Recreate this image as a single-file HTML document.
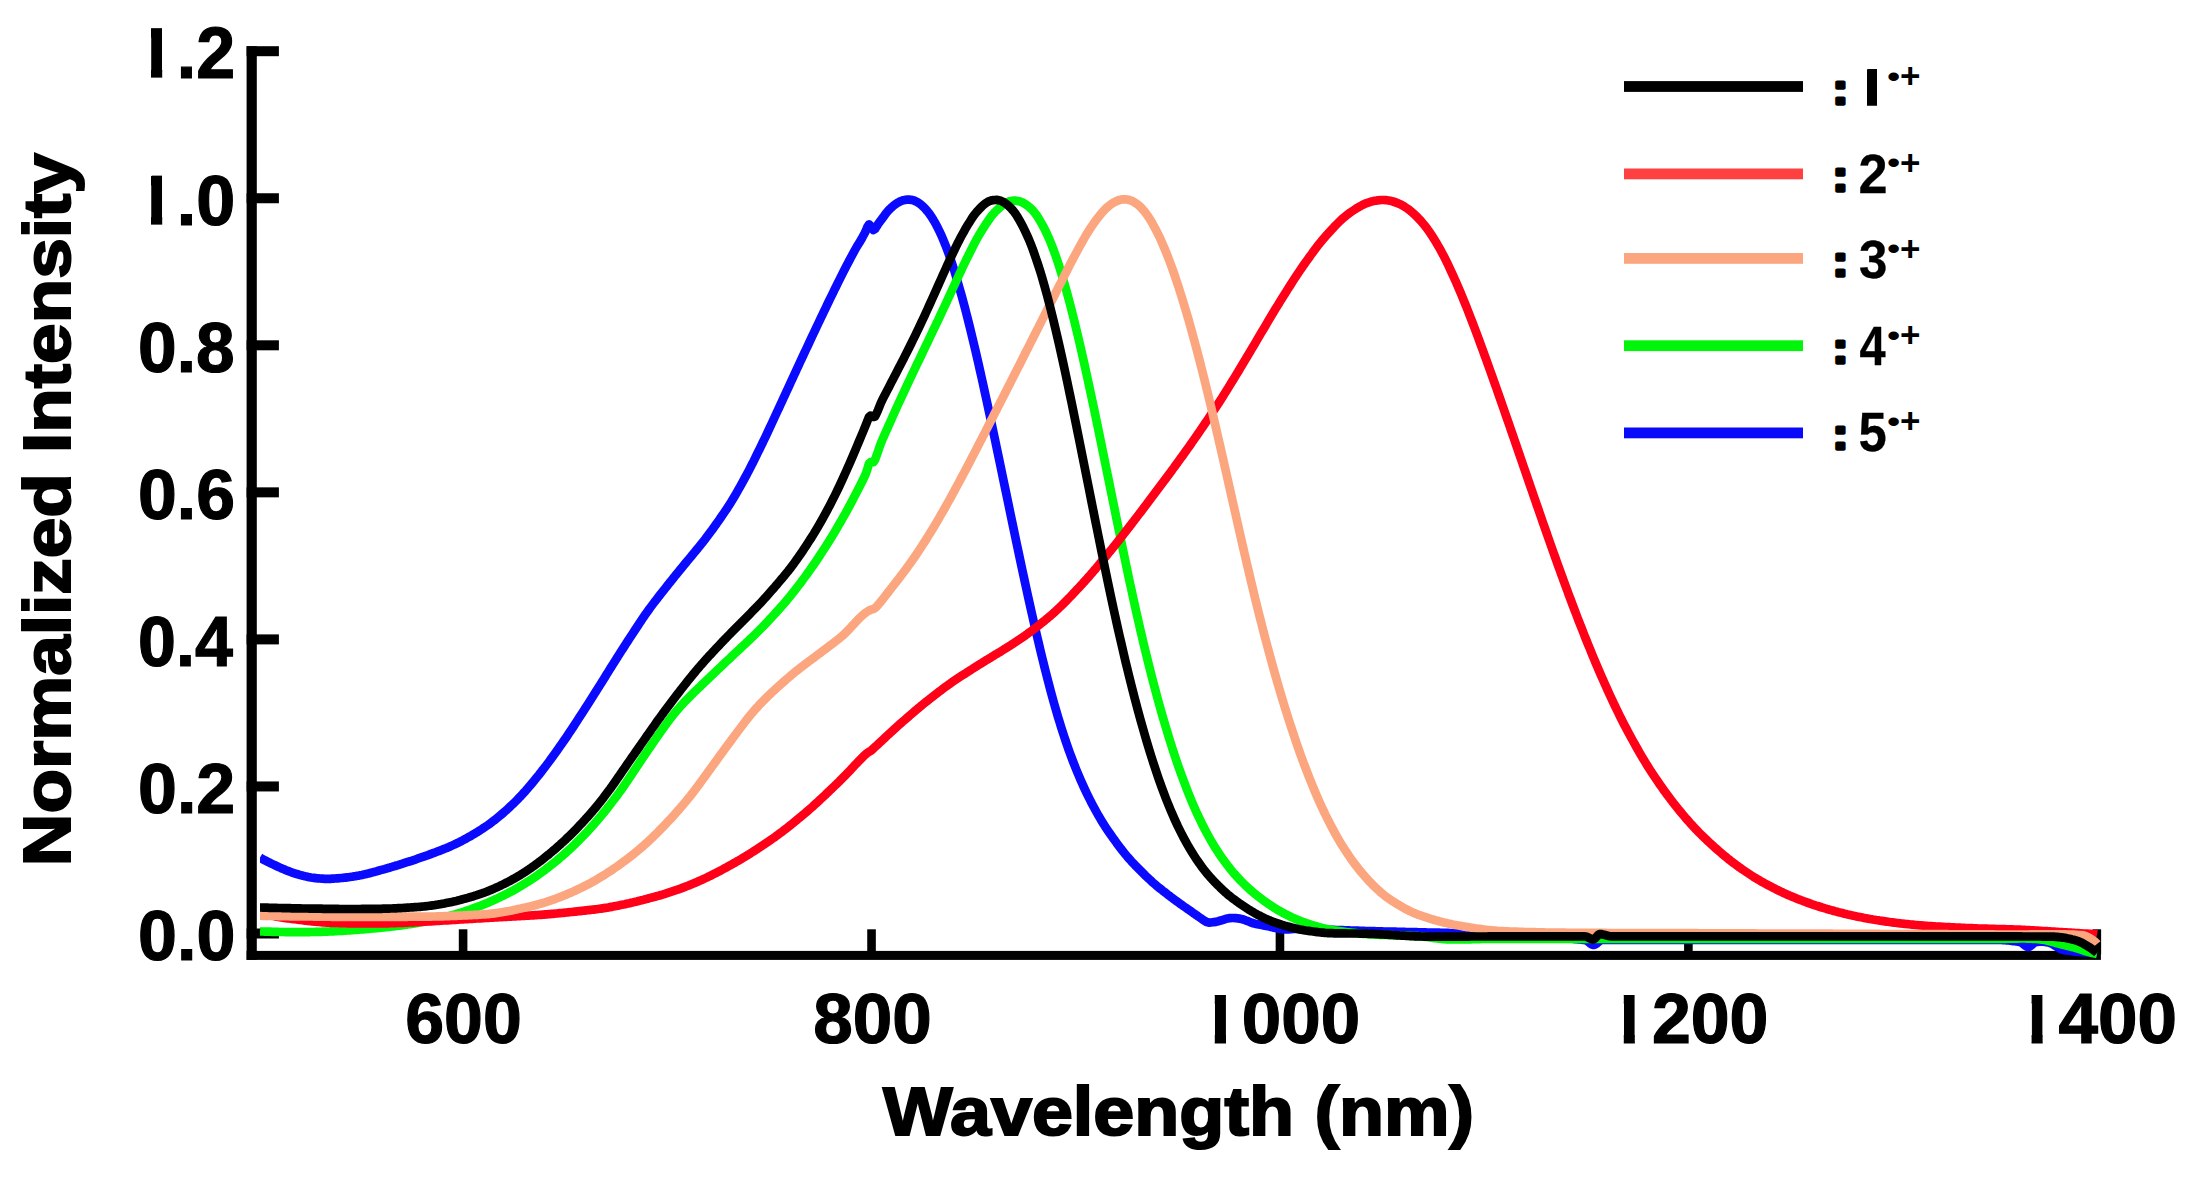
<!DOCTYPE html>
<html lang="en"><head><meta charset="utf-8"><title>Normalized Intensity vs Wavelength</title>
<style>html,body{margin:0;padding:0;background:#fff}body{width:2193px;height:1177px;overflow:hidden}svg{display:block}text{font-family:"Liberation Sans", sans-serif;font-weight:700;fill:#000}</style></head><body>
<svg width="2193" height="1177" viewBox="0 0 2193 1177">
<rect width="2193" height="1177" fill="#fff"/>
<defs><clipPath id="plot"><rect x="260" y="150" width="1841" height="810"/></clipPath></defs>
<g fill="#000">
<rect x="246.6" y="46.2" width="10.2" height="913.6"/>
<rect x="246.6" y="950.9" width="1854.3" height="9"/>
<rect x="246.6" y="928.50" width="32.3" height="10"/>
<rect x="246.6" y="781.45" width="32.3" height="10"/>
<rect x="246.6" y="634.40" width="32.3" height="10"/>
<rect x="246.6" y="487.35" width="32.3" height="10"/>
<rect x="246.6" y="340.30" width="32.3" height="10"/>
<rect x="246.6" y="193.25" width="32.3" height="10"/>
<rect x="246.6" y="46.20" width="32.3" height="10"/>
<rect x="458.80" y="929.3" width="8.6" height="25"/>
<rect x="867.23" y="929.3" width="8.6" height="25"/>
<rect x="1275.66" y="929.3" width="8.6" height="25"/>
<rect x="1684.09" y="929.3" width="8.6" height="25"/>
<rect x="2092.52" y="929.3" width="8.6" height="25"/>
</g>
<g clip-path="url(#plot)" fill="none" stroke-width="8.7" stroke-linejoin="round" stroke-linecap="butt">
<path d="M260.0 857.6 L261.5 858.5 L263.0 859.3 L264.5 860.1 L266.0 860.9 L267.5 861.7 L269.0 862.4 L270.5 863.2 L272.0 863.9 L273.5 864.6 L275.0 865.3 L276.5 866.0 L278.0 866.7 L279.5 867.4 L281.0 868.1 L282.5 868.7 L284.0 869.3 L285.5 870.0 L287.0 870.6 L288.5 871.1 L290.0 871.7 L291.5 872.3 L293.0 872.8 L294.5 873.3 L296.0 873.8 L297.5 874.2 L299.0 874.7 L300.5 875.1 L302.0 875.5 L303.5 875.9 L305.0 876.3 L306.5 876.6 L308.0 876.9 L309.5 877.2 L311.0 877.5 L312.5 877.7 L314.0 877.9 L315.5 878.1 L317.0 878.3 L318.5 878.4 L320.0 878.5 L321.5 878.6 L323.0 878.7 L324.5 878.8 L326.0 878.8 L327.5 878.8 L329.0 878.8 L330.5 878.8 L332.0 878.7 L333.5 878.6 L335.0 878.5 L336.5 878.4 L338.0 878.3 L339.5 878.2 L341.0 878.0 L342.5 877.9 L344.0 877.7 L345.5 877.6 L347.0 877.4 L348.5 877.2 L350.0 877.0 L351.5 876.8 L353.0 876.6 L354.5 876.3 L356.0 876.1 L357.5 875.8 L359.0 875.6 L360.5 875.3 L362.0 875.0 L363.5 874.6 L365.0 874.3 L366.5 873.9 L368.0 873.6 L369.5 873.2 L371.0 872.8 L372.5 872.4 L374.0 872.0 L375.5 871.6 L377.0 871.2 L378.5 870.7 L380.0 870.3 L381.5 869.9 L383.0 869.5 L384.5 869.1 L386.0 868.6 L387.5 868.2 L389.0 867.8 L390.5 867.3 L392.0 866.9 L393.5 866.4 L395.0 866.0 L396.5 865.5 L398.0 865.1 L399.5 864.6 L401.0 864.1 L402.5 863.7 L404.0 863.2 L405.5 862.7 L407.0 862.2 L408.5 861.7 L410.0 861.3 L411.5 860.8 L413.0 860.3 L414.5 859.8 L416.0 859.3 L417.5 858.7 L419.0 858.2 L420.5 857.7 L422.0 857.2 L423.5 856.7 L425.0 856.1 L426.5 855.6 L428.0 855.1 L429.5 854.5 L431.0 854.0 L432.5 853.4 L434.0 852.8 L435.5 852.3 L437.0 851.7 L438.5 851.2 L440.0 850.6 L441.5 850.0 L443.0 849.4 L444.5 848.8 L446.0 848.2 L447.5 847.6 L449.0 847.0 L450.5 846.3 L452.0 845.6 L453.5 844.9 L455.0 844.2 L456.5 843.5 L458.0 842.8 L459.5 842.0 L461.0 841.3 L462.5 840.5 L464.0 839.7 L465.5 838.9 L467.0 838.0 L468.5 837.2 L470.0 836.4 L471.5 835.5 L473.0 834.6 L474.5 833.7 L476.0 832.8 L477.5 831.9 L479.0 830.9 L480.5 830.0 L482.0 829.0 L483.5 828.1 L485.0 827.0 L486.5 826.0 L488.0 825.0 L489.5 823.9 L491.0 822.8 L492.5 821.6 L494.0 820.5 L495.5 819.3 L497.0 818.1 L498.5 816.9 L500.0 815.7 L501.5 814.4 L503.0 813.1 L504.5 811.8 L506.0 810.5 L507.5 809.1 L509.0 807.7 L510.5 806.3 L512.0 804.9 L513.5 803.5 L515.0 802.0 L516.5 800.5 L518.0 798.9 L519.5 797.3 L521.0 795.8 L522.5 794.2 L524.0 792.5 L525.5 790.9 L527.0 789.2 L528.5 787.4 L530.0 785.7 L531.5 783.9 L533.0 782.1 L534.5 780.2 L536.0 778.4 L537.5 776.5 L539.0 774.7 L540.5 772.8 L542.0 770.8 L543.5 768.9 L545.0 767.0 L546.5 765.0 L548.0 763.0 L549.5 761.0 L551.0 758.9 L552.5 756.9 L554.0 754.8 L555.5 752.7 L557.0 750.6 L558.5 748.5 L560.0 746.3 L561.5 744.2 L563.0 742.0 L564.5 739.9 L566.0 737.7 L567.5 735.5 L569.0 733.2 L570.5 731.0 L572.0 728.8 L573.5 726.5 L575.0 724.2 L576.5 721.9 L578.0 719.5 L579.5 717.2 L581.0 714.9 L582.5 712.6 L584.0 710.2 L585.5 707.9 L587.0 705.6 L588.5 703.2 L590.0 700.9 L591.5 698.5 L593.0 696.2 L594.5 693.8 L596.0 691.4 L597.5 689.0 L599.0 686.7 L600.5 684.3 L602.0 681.9 L603.5 679.5 L605.0 677.1 L606.5 674.6 L608.0 672.2 L609.5 669.8 L611.0 667.4 L612.5 665.0 L614.0 662.7 L615.5 660.3 L617.0 657.9 L618.5 655.5 L620.0 653.2 L621.5 650.8 L623.0 648.5 L624.5 646.2 L626.0 643.8 L627.5 641.5 L629.0 639.2 L630.5 636.9 L632.0 634.6 L633.5 632.3 L635.0 630.0 L636.5 627.8 L638.0 625.5 L639.5 623.2 L641.0 621.0 L642.5 618.7 L644.0 616.5 L645.5 614.3 L647.0 612.2 L648.5 610.1 L650.0 608.0 L651.5 606.0 L653.0 604.0 L654.5 602.0 L656.0 600.1 L657.5 598.2 L659.0 596.2 L660.5 594.3 L662.0 592.4 L663.5 590.5 L665.0 588.6 L666.5 586.7 L668.0 584.8 L669.5 582.9 L671.0 581.1 L672.5 579.2 L674.0 577.3 L675.5 575.4 L677.0 573.6 L678.5 571.7 L680.0 569.9 L681.5 568.1 L683.0 566.2 L684.5 564.4 L686.0 562.6 L687.5 560.8 L689.0 559.0 L690.5 557.2 L692.0 555.4 L693.5 553.5 L695.0 551.7 L696.5 549.9 L698.0 548.1 L699.5 546.2 L701.0 544.4 L702.5 542.5 L704.0 540.6 L705.5 538.7 L707.0 536.7 L708.5 534.7 L710.0 532.7 L711.5 530.7 L713.0 528.6 L714.5 526.5 L716.0 524.4 L717.5 522.3 L719.0 520.2 L720.5 518.0 L722.0 515.8 L723.5 513.6 L725.0 511.4 L726.5 509.2 L728.0 506.9 L729.5 504.6 L731.0 502.2 L732.5 499.7 L734.0 497.2 L735.5 494.7 L737.0 492.1 L738.5 489.4 L740.0 486.8 L741.5 484.1 L743.0 481.4 L744.5 478.6 L746.0 475.9 L747.5 473.0 L749.0 470.2 L750.5 467.3 L752.0 464.3 L753.5 461.4 L755.0 458.3 L756.5 455.3 L758.0 452.2 L759.5 449.2 L761.0 446.1 L762.5 443.0 L764.0 439.9 L765.5 436.8 L767.0 433.6 L768.5 430.4 L770.0 427.2 L771.5 424.0 L773.0 420.7 L774.5 417.5 L776.0 414.2 L777.5 411.0 L779.0 407.8 L780.5 404.5 L782.0 401.3 L783.5 398.0 L785.0 394.8 L786.5 391.5 L788.0 388.3 L789.5 385.1 L791.0 381.8 L792.5 378.6 L794.0 375.3 L795.5 372.1 L797.0 368.8 L798.5 365.6 L800.0 362.3 L801.5 359.1 L803.0 355.9 L804.5 352.7 L806.0 349.5 L807.5 346.3 L809.0 343.1 L810.5 339.9 L812.0 336.7 L813.5 333.5 L815.0 330.3 L816.5 327.2 L818.0 324.0 L819.5 320.9 L821.0 317.7 L822.5 314.6 L824.0 311.4 L825.5 308.3 L827.0 305.1 L828.5 302.0 L830.0 298.9 L831.5 295.9 L833.0 292.8 L834.5 289.7 L836.0 286.7 L837.5 283.6 L839.0 280.6 L840.5 277.6 L842.0 274.6 L843.5 271.6 L845.0 268.7 L846.5 265.8 L848.0 262.9 L849.5 260.1 L851.0 257.3 L852.5 254.5 L854.0 251.7 L855.5 249.0 L857.0 246.4 L858.5 244.0 L860.0 241.6 L861.5 239.1 L863.0 236.3 L864.5 233.5 L866.0 230.5 L867.5 226.6 L869.0 224.4 L870.5 225.9 L872.0 228.1 L873.5 230.0 L875.0 229.0 L876.5 226.7 L878.0 224.2 L879.5 222.2 L881.0 220.2 L882.5 218.1 L884.0 216.1 L885.5 214.0 L887.0 212.1 L888.5 210.4 L890.0 208.9 L891.5 207.5 L893.0 206.1 L894.5 204.9 L896.0 203.8 L897.5 202.8 L899.0 202.0 L900.5 201.3 L902.0 200.7 L903.5 200.2 L905.0 199.9 L906.5 199.7 L908.0 199.6 L909.5 199.7 L911.0 199.8 L912.5 200.1 L914.0 200.5 L915.5 201.2 L917.0 201.9 L918.5 202.9 L920.0 203.9 L921.5 205.1 L923.0 206.5 L924.5 207.9 L926.0 209.6 L927.5 211.4 L929.0 213.3 L930.5 215.4 L932.0 217.7 L933.5 220.1 L935.0 222.7 L936.5 225.4 L938.0 228.3 L939.5 231.4 L941.0 234.6 L942.5 238.0 L944.0 241.6 L945.5 245.3 L947.0 249.3 L948.5 253.3 L950.0 257.5 L951.5 261.9 L953.0 266.5 L954.5 271.3 L956.0 276.3 L957.5 281.3 L959.0 286.4 L960.5 291.7 L962.0 297.0 L963.5 302.6 L965.0 308.2 L966.5 314.0 L968.0 319.9 L969.5 325.9 L971.0 332.0 L972.5 338.2 L974.0 344.5 L975.5 350.8 L977.0 357.3 L978.5 363.8 L980.0 370.5 L981.5 377.1 L983.0 383.9 L984.5 390.7 L986.0 397.6 L987.5 404.5 L989.0 411.5 L990.5 418.5 L992.0 425.5 L993.5 432.6 L995.0 439.7 L996.5 446.9 L998.0 454.0 L999.5 461.2 L1001.0 468.4 L1002.5 475.6 L1004.0 482.8 L1005.5 490.0 L1007.0 497.2 L1008.5 504.4 L1010.0 511.6 L1011.5 518.8 L1013.0 526.0 L1014.5 533.1 L1016.0 540.3 L1017.5 547.4 L1019.0 554.5 L1020.5 561.5 L1022.0 568.6 L1023.5 575.5 L1025.0 582.5 L1026.5 589.4 L1028.0 596.2 L1029.5 603.0 L1031.0 609.7 L1032.5 616.4 L1034.0 623.0 L1035.5 629.5 L1037.0 635.9 L1038.5 642.3 L1040.0 648.7 L1041.5 654.9 L1043.0 661.0 L1044.5 667.1 L1046.0 673.0 L1047.5 678.9 L1049.0 684.7 L1050.5 690.4 L1052.0 695.9 L1053.5 701.3 L1055.0 706.6 L1056.5 711.8 L1058.0 716.9 L1059.5 721.8 L1061.0 726.7 L1062.5 731.4 L1064.0 736.0 L1065.5 740.5 L1067.0 744.9 L1068.5 749.2 L1070.0 753.4 L1071.5 757.4 L1073.0 761.4 L1074.5 765.2 L1076.0 769.0 L1077.5 772.6 L1079.0 776.2 L1080.5 779.7 L1082.0 783.1 L1083.5 786.4 L1085.0 789.7 L1086.5 792.8 L1088.0 795.9 L1089.5 798.9 L1091.0 801.9 L1092.5 804.7 L1094.0 807.5 L1095.5 810.3 L1097.0 813.0 L1098.5 815.6 L1100.0 818.2 L1101.5 820.7 L1103.0 823.1 L1104.5 825.5 L1106.0 827.8 L1107.5 830.1 L1109.0 832.3 L1110.5 834.4 L1112.0 836.5 L1113.5 838.7 L1115.0 840.7 L1116.5 842.8 L1118.0 844.8 L1119.5 846.8 L1121.0 848.8 L1122.5 850.7 L1124.0 852.6 L1125.5 854.5 L1127.0 856.3 L1128.5 858.0 L1130.0 859.7 L1131.5 861.4 L1133.0 863.0 L1134.5 864.6 L1136.0 866.2 L1137.5 867.7 L1139.0 869.2 L1140.5 870.7 L1142.0 872.2 L1143.5 873.7 L1145.0 875.2 L1146.5 876.6 L1148.0 878.0 L1149.5 879.4 L1151.0 880.8 L1152.5 882.2 L1154.0 883.5 L1155.5 884.8 L1157.0 886.1 L1158.5 887.3 L1160.0 888.5 L1161.5 889.7 L1163.0 890.9 L1164.5 892.0 L1166.0 893.2 L1167.5 894.4 L1169.0 895.5 L1170.5 896.7 L1172.0 897.8 L1173.5 898.9 L1175.0 900.1 L1176.5 901.2 L1178.0 902.2 L1179.5 903.3 L1181.0 904.4 L1182.5 905.4 L1184.0 906.5 L1185.5 907.5 L1187.0 908.6 L1188.5 909.6 L1190.0 910.7 L1191.5 911.7 L1193.0 912.8 L1194.5 913.8 L1196.0 914.9 L1197.5 915.9 L1199.0 917.0 L1200.5 918.0 L1202.0 919.1 L1203.5 920.1 L1205.0 921.1 L1206.5 922.0 L1208.0 922.4 L1209.5 922.6 L1211.0 922.5 L1212.5 922.3 L1214.0 922.1 L1215.5 921.9 L1217.0 921.6 L1218.5 921.2 L1220.0 920.7 L1221.5 920.3 L1223.0 919.8 L1224.5 919.3 L1226.0 918.8 L1227.5 918.5 L1229.0 918.2 L1230.5 918.1 L1232.0 918.0 L1233.5 918.0 L1235.0 918.1 L1236.5 918.2 L1238.0 918.4 L1239.5 918.6 L1241.0 918.9 L1242.5 919.3 L1244.0 919.7 L1245.5 920.3 L1247.0 920.8 L1248.5 921.4 L1250.0 922.1 L1251.5 922.6 L1253.0 923.2 L1254.5 923.6 L1256.0 923.9 L1257.5 924.2 L1259.0 924.5 L1260.5 924.8 L1262.0 925.1 L1263.5 925.4 L1265.0 925.7 L1266.5 926.0 L1268.0 926.3 L1269.5 926.6 L1271.0 927.0 L1272.5 927.3 L1274.0 927.7 L1275.5 928.0 L1277.0 928.3 L1278.5 928.6 L1280.0 928.9 L1281.5 929.1 L1283.0 929.3 L1284.5 929.3 L1286.0 929.4 L1287.5 929.3 L1289.0 929.3 L1290.5 929.2 L1292.0 929.1 L1293.5 929.0 L1295.0 928.9 L1296.5 928.8 L1298.0 928.8 L1299.5 928.8 L1301.0 928.8 L1302.5 928.9 L1304.0 928.9 L1305.5 929.0 L1307.0 929.0 L1308.5 929.1 L1310.0 929.1 L1311.5 929.2 L1313.0 929.2 L1314.5 929.3 L1316.0 929.3 L1317.5 929.4 L1319.0 929.4 L1320.5 929.5 L1322.0 929.5 L1323.5 929.6 L1325.0 929.6 L1326.5 929.7 L1328.0 929.7 L1329.5 929.8 L1331.0 929.8 L1332.5 929.9 L1334.0 929.9 L1335.5 930.0 L1337.0 930.0 L1338.5 930.1 L1340.0 930.1 L1341.5 930.2 L1343.0 930.2 L1344.5 930.3 L1346.0 930.3 L1347.5 930.4 L1349.0 930.4 L1350.5 930.5 L1352.0 930.5 L1353.5 930.6 L1355.0 930.6 L1356.5 930.7 L1358.0 930.7 L1359.5 930.8 L1361.0 930.8 L1362.5 930.9 L1364.0 930.9 L1365.5 931.0 L1367.0 931.0 L1368.5 931.1 L1370.0 931.1 L1371.5 931.2 L1373.0 931.2 L1374.5 931.2 L1376.0 931.3 L1377.5 931.3 L1379.0 931.4 L1380.5 931.4 L1382.0 931.4 L1383.5 931.5 L1385.0 931.5 L1386.5 931.5 L1388.0 931.6 L1389.5 931.6 L1391.0 931.6 L1392.5 931.7 L1394.0 931.7 L1395.5 931.7 L1397.0 931.8 L1398.5 931.8 L1400.0 931.8 L1401.5 931.9 L1403.0 931.9 L1404.5 931.9 L1406.0 932.0 L1407.5 932.0 L1409.0 932.0 L1410.5 932.1 L1412.0 932.1 L1413.5 932.1 L1415.0 932.2 L1416.5 932.2 L1418.0 932.3 L1419.5 932.3 L1421.0 932.3 L1422.5 932.4 L1424.0 932.4 L1425.5 932.4 L1427.0 932.5 L1428.5 932.5 L1430.0 932.5 L1431.5 932.6 L1433.0 932.6 L1434.5 932.6 L1436.0 932.7 L1437.5 932.7 L1439.0 932.7 L1440.5 932.8 L1442.0 932.8 L1443.5 932.8 L1445.0 932.9 L1446.5 932.9 L1448.0 932.9 L1449.5 933.0 L1451.0 933.0 L1452.5 933.0 L1454.0 933.1 L1455.5 933.1 L1457.0 933.1 L1458.5 933.2 L1460.0 933.2 L1461.5 933.3 L1463.0 933.3 L1464.5 933.3 L1466.0 933.4 L1467.5 933.4 L1469.0 933.5 L1470.5 933.5 L1472.0 933.5 L1473.5 933.6 L1475.0 933.6 L1476.5 933.7 L1478.0 933.7 L1479.5 933.8 L1481.0 933.8 L1482.5 933.8 L1484.0 933.9 L1485.5 933.9 L1487.0 934.0 L1488.5 934.0 L1490.0 934.1 L1491.5 934.1 L1493.0 934.2 L1494.5 934.2 L1496.0 934.3 L1497.5 934.3 L1499.0 934.4 L1500.5 934.4 L1502.0 934.4 L1503.5 934.5 L1505.0 934.5 L1506.5 934.6 L1508.0 934.6 L1509.5 934.7 L1511.0 934.7 L1512.5 934.8 L1514.0 934.8 L1515.5 934.9 L1517.0 934.9 L1518.5 935.0 L1520.0 935.0 L1521.5 935.0 L1523.0 935.1 L1524.5 935.2 L1526.0 935.2 L1527.5 935.3 L1529.0 935.4 L1530.5 935.4 L1532.0 935.5 L1533.5 935.6 L1535.0 935.7 L1536.5 935.8 L1538.0 935.9 L1539.5 936.0 L1541.0 936.1 L1542.5 936.2 L1544.0 936.3 L1545.5 936.4 L1547.0 936.5 L1548.5 936.6 L1550.0 936.7 L1551.5 936.9 L1553.0 937.0 L1554.5 937.1 L1556.0 937.3 L1557.5 937.4 L1559.0 937.5 L1560.5 937.7 L1562.0 937.8 L1563.5 937.9 L1565.0 938.1 L1566.5 938.2 L1568.0 938.4 L1569.5 938.5 L1571.0 938.6 L1572.5 938.8 L1574.0 938.9 L1575.5 939.1 L1577.0 939.2 L1578.5 939.4 L1580.0 939.5 L1581.5 939.7 L1583.0 939.8 L1584.5 940.0 L1586.0 940.3 L1587.5 941.1 L1589.0 942.3 L1590.5 943.6 L1592.0 944.6 L1593.5 945.0 L1595.0 944.6 L1596.5 943.6 L1598.0 942.3 L1599.5 941.1 L1601.0 940.2 L1602.5 940.0 L1604.0 940.0 L1605.5 940.0 L1607.0 940.0 L1608.5 940.0 L1610.0 940.0 L1611.5 940.0 L1613.0 940.0 L1614.5 940.0 L1616.0 940.0 L1617.5 940.0 L1619.0 940.0 L1620.5 940.0 L1622.0 940.0 L1623.5 940.0 L1625.0 940.0 L1626.5 940.0 L1628.0 940.0 L1629.5 940.0 L1631.0 940.0 L1632.5 940.0 L1634.0 940.0 L1635.5 940.0 L1637.0 940.0 L1638.5 940.0 L1640.0 940.0 L1641.5 940.0 L1643.0 940.0 L1644.5 940.0 L1646.0 940.0 L1647.5 940.0 L1649.0 940.0 L1650.5 940.0 L1652.0 940.0 L1653.5 940.0 L1655.0 940.0 L1656.5 940.0 L1658.0 940.0 L1659.5 940.0 L1661.0 940.0 L1662.5 940.0 L1664.0 940.0 L1665.5 940.0 L1667.0 940.0 L1668.5 940.0 L1670.0 940.0 L1671.5 940.0 L1673.0 940.0 L1674.5 940.0 L1676.0 940.0 L1677.5 940.0 L1679.0 940.0 L1680.5 940.0 L1682.0 940.0 L1683.5 940.0 L1685.0 940.0 L1686.5 940.0 L1688.0 940.0 L1689.5 940.0 L1691.0 940.0 L1692.5 940.0 L1694.0 940.0 L1695.5 940.0 L1697.0 940.0 L1698.5 940.0 L1700.0 940.0 L1701.5 940.0 L1703.0 940.0 L1704.5 940.0 L1706.0 940.0 L1707.5 940.0 L1709.0 940.0 L1710.5 940.0 L1712.0 940.0 L1713.5 940.0 L1715.0 940.0 L1716.5 940.0 L1718.0 940.0 L1719.5 940.0 L1721.0 940.0 L1722.5 940.0 L1724.0 940.0 L1725.5 940.0 L1727.0 940.0 L1728.5 940.0 L1730.0 940.0 L1731.5 940.0 L1733.0 940.0 L1734.5 940.0 L1736.0 940.0 L1737.5 940.0 L1739.0 940.0 L1740.5 940.0 L1742.0 940.0 L1743.5 940.0 L1745.0 940.0 L1746.5 940.0 L1748.0 940.0 L1749.5 940.0 L1751.0 940.0 L1752.5 940.0 L1754.0 940.0 L1755.5 940.0 L1757.0 940.0 L1758.5 940.0 L1760.0 940.0 L1761.5 940.0 L1763.0 940.0 L1764.5 940.0 L1766.0 940.0 L1767.5 940.0 L1769.0 940.0 L1770.5 940.0 L1772.0 940.0 L1773.5 940.0 L1775.0 940.0 L1776.5 940.0 L1778.0 940.0 L1779.5 940.0 L1781.0 940.0 L1782.5 940.0 L1784.0 940.0 L1785.5 940.0 L1787.0 940.0 L1788.5 940.0 L1790.0 940.0 L1791.5 940.0 L1793.0 940.0 L1794.5 940.0 L1796.0 940.0 L1797.5 940.0 L1799.0 940.0 L1800.5 940.0 L1802.0 940.0 L1803.5 940.0 L1805.0 940.0 L1806.5 940.0 L1808.0 940.0 L1809.5 940.0 L1811.0 940.0 L1812.5 940.0 L1814.0 940.0 L1815.5 940.0 L1817.0 940.0 L1818.5 940.0 L1820.0 940.0 L1821.5 940.0 L1823.0 940.0 L1824.5 940.0 L1826.0 940.0 L1827.5 940.0 L1829.0 940.0 L1830.5 940.0 L1832.0 940.0 L1833.5 940.0 L1835.0 940.0 L1836.5 940.0 L1838.0 940.0 L1839.5 940.0 L1841.0 940.0 L1842.5 940.0 L1844.0 940.0 L1845.5 940.0 L1847.0 940.0 L1848.5 940.0 L1850.0 940.0 L1851.5 940.0 L1853.0 940.0 L1854.5 940.0 L1856.0 940.0 L1857.5 940.0 L1859.0 940.0 L1860.5 940.0 L1862.0 940.0 L1863.5 940.0 L1865.0 940.0 L1866.5 940.0 L1868.0 940.0 L1869.5 940.0 L1871.0 940.0 L1872.5 940.0 L1874.0 940.0 L1875.5 940.0 L1877.0 940.0 L1878.5 940.0 L1880.0 940.0 L1881.5 940.0 L1883.0 940.0 L1884.5 940.0 L1886.0 940.0 L1887.5 940.0 L1889.0 940.0 L1890.5 940.0 L1892.0 940.0 L1893.5 940.0 L1895.0 940.0 L1896.5 940.0 L1898.0 940.0 L1899.5 940.0 L1901.0 940.0 L1902.5 940.0 L1904.0 940.0 L1905.5 940.0 L1907.0 940.0 L1908.5 940.0 L1910.0 940.0 L1911.5 940.0 L1913.0 940.0 L1914.5 940.0 L1916.0 940.0 L1917.5 940.0 L1919.0 940.0 L1920.5 940.0 L1922.0 940.0 L1923.5 940.0 L1925.0 940.0 L1926.5 940.0 L1928.0 940.0 L1929.5 940.0 L1931.0 940.0 L1932.5 940.0 L1934.0 940.0 L1935.5 940.0 L1937.0 940.0 L1938.5 940.0 L1940.0 940.0 L1941.5 940.0 L1943.0 940.0 L1944.5 940.0 L1946.0 940.0 L1947.5 940.0 L1949.0 940.0 L1950.5 940.0 L1952.0 940.0 L1953.5 940.0 L1955.0 940.0 L1956.5 940.0 L1958.0 940.0 L1959.5 940.0 L1961.0 940.0 L1962.5 940.0 L1964.0 940.0 L1965.5 940.0 L1967.0 940.0 L1968.5 940.0 L1970.0 940.0 L1971.5 940.0 L1973.0 940.0 L1974.5 940.0 L1976.0 940.0 L1977.5 940.0 L1979.0 940.0 L1980.5 940.0 L1982.0 940.0 L1983.5 940.0 L1985.0 940.0 L1986.5 940.0 L1988.0 940.0 L1989.5 940.0 L1991.0 940.0 L1992.5 940.0 L1994.0 940.0 L1995.5 940.0 L1997.0 940.0 L1998.5 940.0 L2000.0 940.0 L2001.5 940.0 L2003.0 940.1 L2004.5 940.1 L2006.0 940.3 L2007.5 940.4 L2009.0 940.5 L2010.5 940.7 L2012.0 940.9 L2013.5 941.1 L2015.0 941.3 L2016.5 941.5 L2018.0 941.7 L2019.5 941.9 L2021.0 942.3 L2022.5 943.3 L2024.0 944.6 L2025.5 945.8 L2027.0 946.7 L2028.5 947.0 L2030.0 946.4 L2031.5 945.2 L2033.0 943.8 L2034.5 942.6 L2036.0 942.0 L2037.5 941.9 L2039.0 941.7 L2040.5 941.7 L2042.0 941.7 L2043.5 941.7 L2045.0 941.9 L2046.5 942.1 L2048.0 942.4 L2049.5 942.8 L2051.0 943.4 L2052.5 944.1 L2054.0 945.0 L2055.5 945.9 L2057.0 946.9 L2058.5 947.8 L2060.0 948.7 L2061.5 949.4 L2063.0 949.9 L2064.5 950.1 L2066.0 950.4 L2067.5 950.6 L2069.0 950.8 L2070.5 951.0 L2072.0 951.2 L2073.5 951.4 L2075.0 951.6 L2076.5 951.7 L2078.0 951.8 L2079.5 952.0 L2081.0 952.1 L2082.5 952.2 L2084.0 952.3 L2085.5 952.4 L2087.0 952.5 L2088.5 952.6 L2090.0 952.7 L2091.5 952.8 L2093.0 952.8 L2094.5 952.9 L2096.0 953.0 L2097.0 953.0" stroke="#0a0aff"/>
<path d="M260.0 931.4 L261.5 931.5 L263.0 931.5 L264.5 931.6 L266.0 931.6 L267.5 931.7 L269.0 931.7 L270.5 931.7 L272.0 931.8 L273.5 931.8 L275.0 931.9 L276.5 931.9 L278.0 931.9 L279.5 932.0 L281.0 932.0 L282.5 932.0 L284.0 932.0 L285.5 932.1 L287.0 932.1 L288.5 932.1 L290.0 932.1 L291.5 932.1 L293.0 932.1 L294.5 932.1 L296.0 932.1 L297.5 932.1 L299.0 932.1 L300.5 932.1 L302.0 932.1 L303.5 932.1 L305.0 932.1 L306.5 932.1 L308.0 932.1 L309.5 932.1 L311.0 932.0 L312.5 932.0 L314.0 932.0 L315.5 931.9 L317.0 931.9 L318.5 931.9 L320.0 931.8 L321.5 931.8 L323.0 931.7 L324.5 931.7 L326.0 931.6 L327.5 931.6 L329.0 931.5 L330.5 931.4 L332.0 931.4 L333.5 931.3 L335.0 931.2 L336.5 931.1 L338.0 931.0 L339.5 931.0 L341.0 930.9 L342.5 930.8 L344.0 930.7 L345.5 930.6 L347.0 930.5 L348.5 930.4 L350.0 930.3 L351.5 930.2 L353.0 930.1 L354.5 930.0 L356.0 929.9 L357.5 929.8 L359.0 929.6 L360.5 929.5 L362.0 929.4 L363.5 929.3 L365.0 929.2 L366.5 929.0 L368.0 928.9 L369.5 928.8 L371.0 928.6 L372.5 928.5 L374.0 928.4 L375.5 928.2 L377.0 928.1 L378.5 927.9 L380.0 927.8 L381.5 927.7 L383.0 927.5 L384.5 927.3 L386.0 927.2 L387.5 927.0 L389.0 926.9 L390.5 926.7 L392.0 926.5 L393.5 926.3 L395.0 926.2 L396.5 926.0 L398.0 925.8 L399.5 925.6 L401.0 925.4 L402.5 925.2 L404.0 925.0 L405.5 924.8 L407.0 924.6 L408.5 924.3 L410.0 924.1 L411.5 923.9 L413.0 923.6 L414.5 923.4 L416.0 923.1 L417.5 922.9 L419.0 922.6 L420.5 922.3 L422.0 922.0 L423.5 921.8 L425.0 921.5 L426.5 921.2 L428.0 920.9 L429.5 920.6 L431.0 920.3 L432.5 920.0 L434.0 919.6 L435.5 919.3 L437.0 919.0 L438.5 918.6 L440.0 918.3 L441.5 918.0 L443.0 917.6 L444.5 917.2 L446.0 916.8 L447.5 916.5 L449.0 916.1 L450.5 915.6 L452.0 915.2 L453.5 914.8 L455.0 914.4 L456.5 913.9 L458.0 913.5 L459.5 913.0 L461.0 912.6 L462.5 912.1 L464.0 911.6 L465.5 911.1 L467.0 910.6 L468.5 910.1 L470.0 909.6 L471.5 909.1 L473.0 908.5 L474.5 908.0 L476.0 907.4 L477.5 906.9 L479.0 906.3 L480.5 905.7 L482.0 905.1 L483.5 904.5 L485.0 903.9 L486.5 903.3 L488.0 902.7 L489.5 902.0 L491.0 901.3 L492.5 900.7 L494.0 900.0 L495.5 899.3 L497.0 898.6 L498.5 897.9 L500.0 897.2 L501.5 896.4 L503.0 895.7 L504.5 895.0 L506.0 894.2 L507.5 893.5 L509.0 892.7 L510.5 891.9 L512.0 891.1 L513.5 890.3 L515.0 889.4 L516.5 888.6 L518.0 887.7 L519.5 886.8 L521.0 885.9 L522.5 885.0 L524.0 884.1 L525.5 883.2 L527.0 882.2 L528.5 881.3 L530.0 880.3 L531.5 879.3 L533.0 878.4 L534.5 877.4 L536.0 876.3 L537.5 875.3 L539.0 874.2 L540.5 873.2 L542.0 872.1 L543.5 871.0 L545.0 869.9 L546.5 868.7 L548.0 867.6 L549.5 866.4 L551.0 865.2 L552.5 864.0 L554.0 862.8 L555.5 861.6 L557.0 860.4 L558.5 859.1 L560.0 857.8 L561.5 856.5 L563.0 855.3 L564.5 853.9 L566.0 852.6 L567.5 851.2 L569.0 849.9 L570.5 848.5 L572.0 847.1 L573.5 845.6 L575.0 844.2 L576.5 842.7 L578.0 841.2 L579.5 839.7 L581.0 838.2 L582.5 836.6 L584.0 835.1 L585.5 833.5 L587.0 831.9 L588.5 830.3 L590.0 828.6 L591.5 826.9 L593.0 825.3 L594.5 823.6 L596.0 821.8 L597.5 820.1 L599.0 818.3 L600.5 816.6 L602.0 814.8 L603.5 812.9 L605.0 811.1 L606.5 809.2 L608.0 807.3 L609.5 805.4 L611.0 803.5 L612.5 801.5 L614.0 799.5 L615.5 797.6 L617.0 795.6 L618.5 793.5 L620.0 791.5 L621.5 789.4 L623.0 787.2 L624.5 785.1 L626.0 782.9 L627.5 780.7 L629.0 778.4 L630.5 776.2 L632.0 774.0 L633.5 771.7 L635.0 769.5 L636.5 767.2 L638.0 765.0 L639.5 762.7 L641.0 760.5 L642.5 758.2 L644.0 756.0 L645.5 753.8 L647.0 751.6 L648.5 749.4 L650.0 747.2 L651.5 745.0 L653.0 742.8 L654.5 740.6 L656.0 738.5 L657.5 736.3 L659.0 734.2 L660.5 732.0 L662.0 729.9 L663.5 727.8 L665.0 725.8 L666.5 723.7 L668.0 721.7 L669.5 719.7 L671.0 717.7 L672.5 715.8 L674.0 713.9 L675.5 712.1 L677.0 710.3 L678.5 708.6 L680.0 706.9 L681.5 705.2 L683.0 703.6 L684.5 701.9 L686.0 700.4 L687.5 698.8 L689.0 697.3 L690.5 695.8 L692.0 694.3 L693.5 692.8 L695.0 691.4 L696.5 690.0 L698.0 688.5 L699.5 687.1 L701.0 685.7 L702.5 684.2 L704.0 682.8 L705.5 681.4 L707.0 679.9 L708.5 678.5 L710.0 677.1 L711.5 675.6 L713.0 674.2 L714.5 672.8 L716.0 671.4 L717.5 669.9 L719.0 668.5 L720.5 667.1 L722.0 665.7 L723.5 664.2 L725.0 662.8 L726.5 661.4 L728.0 660.0 L729.5 658.6 L731.0 657.2 L732.5 655.7 L734.0 654.3 L735.5 652.9 L737.0 651.5 L738.5 650.1 L740.0 648.7 L741.5 647.3 L743.0 645.9 L744.5 644.5 L746.0 643.1 L747.5 641.6 L749.0 640.2 L750.5 638.8 L752.0 637.4 L753.5 636.0 L755.0 634.5 L756.5 633.0 L758.0 631.5 L759.5 630.0 L761.0 628.5 L762.5 627.0 L764.0 625.4 L765.5 623.8 L767.0 622.3 L768.5 620.7 L770.0 619.0 L771.5 617.4 L773.0 615.8 L774.5 614.2 L776.0 612.5 L777.5 610.8 L779.0 609.2 L780.5 607.5 L782.0 605.8 L783.5 604.1 L785.0 602.4 L786.5 600.6 L788.0 598.8 L789.5 597.0 L791.0 595.1 L792.5 593.3 L794.0 591.4 L795.5 589.4 L797.0 587.5 L798.5 585.5 L800.0 583.6 L801.5 581.6 L803.0 579.5 L804.5 577.5 L806.0 575.5 L807.5 573.4 L809.0 571.3 L810.5 569.2 L812.0 567.0 L813.5 564.9 L815.0 562.7 L816.5 560.5 L818.0 558.3 L819.5 556.0 L821.0 553.7 L822.5 551.4 L824.0 549.1 L825.5 546.8 L827.0 544.4 L828.5 542.0 L830.0 539.6 L831.5 537.2 L833.0 534.7 L834.5 532.2 L836.0 529.7 L837.5 527.1 L839.0 524.6 L840.5 522.0 L842.0 519.4 L843.5 516.7 L845.0 514.1 L846.5 511.4 L848.0 508.7 L849.5 505.9 L851.0 503.1 L852.5 500.2 L854.0 497.3 L855.5 494.5 L857.0 491.6 L858.5 488.7 L860.0 485.8 L861.5 482.8 L863.0 479.8 L864.5 476.6 L866.0 473.3 L867.5 468.6 L869.0 463.5 L870.5 462.2 L872.0 462.2 L873.5 462.1 L875.0 459.8 L876.5 455.7 L878.0 451.6 L879.5 447.0 L881.0 443.0 L882.5 439.4 L884.0 436.0 L885.5 432.6 L887.0 429.2 L888.5 425.9 L890.0 422.5 L891.5 419.2 L893.0 415.8 L894.5 412.5 L896.0 409.1 L897.5 405.8 L899.0 402.5 L900.5 399.3 L902.0 396.0 L903.5 392.8 L905.0 389.6 L906.5 386.4 L908.0 383.2 L909.5 380.0 L911.0 376.9 L912.5 373.7 L914.0 370.5 L915.5 367.4 L917.0 364.2 L918.5 361.1 L920.0 358.0 L921.5 354.8 L923.0 351.7 L924.5 348.6 L926.0 345.4 L927.5 342.3 L929.0 339.2 L930.5 336.0 L932.0 332.9 L933.5 329.7 L935.0 326.6 L936.5 323.4 L938.0 320.3 L939.5 317.1 L941.0 313.9 L942.5 310.7 L944.0 307.5 L945.5 304.3 L947.0 301.1 L948.5 297.8 L950.0 294.6 L951.5 291.3 L953.0 288.0 L954.5 284.8 L956.0 281.5 L957.5 278.3 L959.0 275.0 L960.5 271.8 L962.0 268.6 L963.5 265.4 L965.0 262.3 L966.5 259.2 L968.0 256.2 L969.5 253.2 L971.0 250.2 L972.5 247.2 L974.0 244.3 L975.5 241.4 L977.0 238.7 L978.5 236.0 L980.0 233.5 L981.5 231.0 L983.0 228.6 L984.5 226.2 L986.0 223.9 L987.5 221.7 L989.0 219.5 L990.5 217.4 L992.0 215.4 L993.5 213.7 L995.0 212.0 L996.5 210.5 L998.0 209.1 L999.5 207.7 L1001.0 206.4 L1002.5 205.2 L1004.0 204.1 L1005.5 203.1 L1007.0 202.3 L1008.5 201.7 L1010.0 201.2 L1011.5 200.9 L1013.0 200.7 L1014.5 200.7 L1016.0 200.7 L1017.5 200.9 L1019.0 201.2 L1020.5 201.7 L1022.0 202.3 L1023.5 203.0 L1025.0 203.9 L1026.5 204.9 L1028.0 206.0 L1029.5 207.3 L1031.0 208.7 L1032.5 210.2 L1034.0 211.9 L1035.5 213.8 L1037.0 215.9 L1038.5 218.2 L1040.0 220.7 L1041.5 223.3 L1043.0 226.1 L1044.5 228.9 L1046.0 232.0 L1047.5 235.2 L1049.0 238.6 L1050.5 242.2 L1052.0 245.9 L1053.5 249.9 L1055.0 253.9 L1056.5 258.2 L1058.0 262.7 L1059.5 267.4 L1061.0 272.2 L1062.5 277.2 L1064.0 282.3 L1065.5 287.5 L1067.0 292.8 L1068.5 298.3 L1070.0 304.0 L1071.5 309.8 L1073.0 315.7 L1074.5 321.8 L1076.0 328.0 L1077.5 334.3 L1079.0 340.6 L1080.5 347.0 L1082.0 353.6 L1083.5 360.2 L1085.0 367.0 L1086.5 373.7 L1088.0 380.6 L1089.5 387.6 L1091.0 394.6 L1092.5 401.6 L1094.0 408.7 L1095.5 415.9 L1097.0 423.1 L1098.5 430.4 L1100.0 437.6 L1101.5 444.9 L1103.0 452.3 L1104.5 459.6 L1106.0 467.0 L1107.5 474.3 L1109.0 481.7 L1110.5 489.1 L1112.0 496.5 L1113.5 503.9 L1115.0 511.2 L1116.5 518.6 L1118.0 525.9 L1119.5 533.2 L1121.0 540.5 L1122.5 547.7 L1124.0 554.9 L1125.5 562.1 L1127.0 569.2 L1128.5 576.3 L1130.0 583.3 L1131.5 590.2 L1133.0 597.1 L1134.5 603.9 L1136.0 610.7 L1137.5 617.3 L1139.0 623.9 L1140.5 630.4 L1142.0 636.8 L1143.5 643.2 L1145.0 649.4 L1146.5 655.6 L1148.0 661.6 L1149.5 667.6 L1151.0 673.5 L1152.5 679.3 L1154.0 685.1 L1155.5 690.7 L1157.0 696.3 L1158.5 701.8 L1160.0 707.2 L1161.5 712.5 L1163.0 717.7 L1164.5 722.8 L1166.0 727.8 L1167.5 732.8 L1169.0 737.7 L1170.5 742.5 L1172.0 747.3 L1173.5 751.9 L1175.0 756.5 L1176.5 760.9 L1178.0 765.3 L1179.5 769.5 L1181.0 773.7 L1182.5 777.8 L1184.0 781.8 L1185.5 785.8 L1187.0 789.6 L1188.5 793.5 L1190.0 797.2 L1191.5 800.8 L1193.0 804.4 L1194.5 807.8 L1196.0 811.2 L1197.5 814.5 L1199.0 817.6 L1200.5 820.7 L1202.0 823.8 L1203.5 826.8 L1205.0 829.7 L1206.5 832.5 L1208.0 835.3 L1209.5 838.0 L1211.0 840.6 L1212.5 843.2 L1214.0 845.7 L1215.5 848.1 L1217.0 850.4 L1218.5 852.8 L1220.0 855.0 L1221.5 857.2 L1223.0 859.3 L1224.5 861.4 L1226.0 863.4 L1227.5 865.4 L1229.0 867.3 L1230.5 869.2 L1232.0 871.0 L1233.5 872.8 L1235.0 874.5 L1236.5 876.2 L1238.0 877.8 L1239.5 879.4 L1241.0 881.0 L1242.5 882.5 L1244.0 884.0 L1245.5 885.5 L1247.0 886.9 L1248.5 888.3 L1250.0 889.6 L1251.5 890.9 L1253.0 892.2 L1254.5 893.5 L1256.0 894.7 L1257.5 895.9 L1259.0 897.0 L1260.5 898.2 L1262.0 899.3 L1263.5 900.4 L1265.0 901.5 L1266.5 902.6 L1268.0 903.7 L1269.5 904.7 L1271.0 905.7 L1272.5 906.7 L1274.0 907.6 L1275.5 908.6 L1277.0 909.5 L1278.5 910.4 L1280.0 911.2 L1281.5 912.0 L1283.0 912.9 L1284.5 913.7 L1286.0 914.4 L1287.5 915.2 L1289.0 915.9 L1290.5 916.7 L1292.0 917.4 L1293.5 918.1 L1295.0 918.7 L1296.5 919.4 L1298.0 920.0 L1299.5 920.6 L1301.0 921.2 L1302.5 921.8 L1304.0 922.3 L1305.5 922.9 L1307.0 923.4 L1308.5 923.9 L1310.0 924.4 L1311.5 924.9 L1313.0 925.3 L1314.5 925.8 L1316.0 926.2 L1317.5 926.7 L1319.0 927.1 L1320.5 927.5 L1322.0 927.9 L1323.5 928.3 L1325.0 928.6 L1326.5 928.9 L1328.0 929.2 L1329.5 929.5 L1331.0 929.8 L1332.5 930.0 L1334.0 930.3 L1335.5 930.5 L1337.0 930.7 L1338.5 930.9 L1340.0 931.2 L1341.5 931.4 L1343.0 931.6 L1344.5 931.8 L1346.0 932.0 L1347.5 932.2 L1349.0 932.4 L1350.5 932.6 L1352.0 932.7 L1353.5 932.9 L1355.0 933.1 L1356.5 933.2 L1358.0 933.4 L1359.5 933.5 L1361.0 933.6 L1362.5 933.8 L1364.0 933.9 L1365.5 934.0 L1367.0 934.1 L1368.5 934.2 L1370.0 934.3 L1371.5 934.4 L1373.0 934.5 L1374.5 934.6 L1376.0 934.6 L1377.5 934.7 L1379.0 934.8 L1380.5 934.8 L1382.0 934.9 L1383.5 934.9 L1385.0 935.0 L1386.5 935.0 L1388.0 935.1 L1389.5 935.1 L1391.0 935.2 L1392.5 935.2 L1394.0 935.3 L1395.5 935.3 L1397.0 935.4 L1398.5 935.4 L1400.0 935.4 L1401.5 935.5 L1403.0 935.5 L1404.5 935.6 L1406.0 935.7 L1407.5 935.7 L1409.0 935.8 L1410.5 935.8 L1412.0 935.9 L1413.5 936.0 L1415.0 936.1 L1416.5 936.1 L1418.0 936.2 L1419.5 936.3 L1421.0 936.4 L1422.5 936.6 L1424.0 936.7 L1425.5 936.9 L1427.0 937.0 L1428.5 937.2 L1430.0 937.4 L1431.5 937.6 L1433.0 937.9 L1434.5 938.1 L1436.0 938.3 L1437.5 938.5 L1439.0 938.6 L1440.5 938.8 L1442.0 939.0 L1443.5 939.1 L1445.0 939.2 L1446.5 939.3 L1448.0 939.4 L1449.5 939.5 L1451.0 939.5 L1452.5 939.5 L1454.0 939.5 L1455.5 939.5 L1457.0 939.5 L1458.5 939.4 L1460.0 939.4 L1461.5 939.4 L1463.0 939.4 L1464.5 939.4 L1466.0 939.4 L1467.5 939.3 L1469.0 939.3 L1470.5 939.3 L1472.0 939.2 L1473.5 939.2 L1475.0 939.2 L1476.5 939.1 L1478.0 939.1 L1479.5 939.1 L1481.0 939.0 L1482.5 939.0 L1484.0 939.0 L1485.5 939.0 L1487.0 938.9 L1488.5 938.9 L1490.0 938.9 L1491.5 938.9 L1493.0 938.8 L1494.5 938.8 L1496.0 938.8 L1497.5 938.8 L1499.0 938.8 L1500.5 938.8 L1502.0 938.8 L1503.5 938.8 L1505.0 938.8 L1506.5 938.8 L1508.0 938.8 L1509.5 938.8 L1511.0 938.8 L1512.5 938.8 L1514.0 938.8 L1515.5 938.8 L1517.0 938.8 L1518.5 938.8 L1520.0 938.8 L1521.5 938.8 L1523.0 938.8 L1524.5 938.8 L1526.0 938.8 L1527.5 938.8 L1529.0 938.8 L1530.5 938.8 L1532.0 938.8 L1533.5 938.8 L1535.0 938.8 L1536.5 938.8 L1538.0 938.8 L1539.5 938.8 L1541.0 938.8 L1542.5 938.8 L1544.0 938.8 L1545.5 938.8 L1547.0 938.8 L1548.5 938.8 L1550.0 938.8 L1551.5 938.8 L1553.0 938.8 L1554.5 938.8 L1556.0 938.8 L1557.5 938.8 L1559.0 938.8 L1560.5 938.8 L1562.0 938.8 L1563.5 938.8 L1565.0 938.8 L1566.5 938.8 L1568.0 938.8 L1569.5 938.8 L1571.0 938.8 L1572.5 938.8 L1574.0 938.8 L1575.5 938.8 L1577.0 938.8 L1578.5 938.8 L1580.0 938.8 L1581.5 938.8 L1583.0 938.8 L1584.5 938.8 L1586.0 938.8 L1587.5 938.8 L1589.0 938.8 L1590.5 938.8 L1592.0 938.8 L1593.5 938.8 L1595.0 938.8 L1596.5 938.8 L1598.0 938.8 L1599.5 938.8 L1601.0 938.8 L1602.5 938.8 L1604.0 938.8 L1605.5 938.8 L1607.0 938.8 L1608.5 938.8 L1610.0 938.8 L1611.5 938.8 L1613.0 938.8 L1614.5 938.8 L1616.0 938.8 L1617.5 938.8 L1619.0 938.8 L1620.5 938.8 L1622.0 938.8 L1623.5 938.8 L1625.0 938.8 L1626.5 938.8 L1628.0 938.8 L1629.5 938.8 L1631.0 938.8 L1632.5 938.8 L1634.0 938.8 L1635.5 938.8 L1637.0 938.8 L1638.5 938.8 L1640.0 938.8 L1641.5 938.8 L1643.0 938.8 L1644.5 938.8 L1646.0 938.8 L1647.5 938.8 L1649.0 938.8 L1650.5 938.8 L1652.0 938.8 L1653.5 938.8 L1655.0 938.8 L1656.5 938.8 L1658.0 938.8 L1659.5 938.8 L1661.0 938.8 L1662.5 938.8 L1664.0 938.8 L1665.5 938.8 L1667.0 938.8 L1668.5 938.8 L1670.0 938.8 L1671.5 938.8 L1673.0 938.8 L1674.5 938.8 L1676.0 938.8 L1677.5 938.8 L1679.0 938.8 L1680.5 938.8 L1682.0 938.8 L1683.5 938.8 L1685.0 938.8 L1686.5 938.8 L1688.0 938.8 L1689.5 938.8 L1691.0 938.8 L1692.5 938.8 L1694.0 938.8 L1695.5 938.8 L1697.0 938.8 L1698.5 938.8 L1700.0 938.8 L1701.5 938.8 L1703.0 938.8 L1704.5 938.8 L1706.0 938.8 L1707.5 938.8 L1709.0 938.8 L1710.5 938.8 L1712.0 938.8 L1713.5 938.8 L1715.0 938.8 L1716.5 938.8 L1718.0 938.8 L1719.5 938.8 L1721.0 938.8 L1722.5 938.8 L1724.0 938.8 L1725.5 938.8 L1727.0 938.8 L1728.5 938.8 L1730.0 938.8 L1731.5 938.8 L1733.0 938.8 L1734.5 938.8 L1736.0 938.8 L1737.5 938.8 L1739.0 938.8 L1740.5 938.8 L1742.0 938.8 L1743.5 938.8 L1745.0 938.8 L1746.5 938.8 L1748.0 938.8 L1749.5 938.8 L1751.0 938.8 L1752.5 938.8 L1754.0 938.8 L1755.5 938.8 L1757.0 938.8 L1758.5 938.8 L1760.0 938.8 L1761.5 938.8 L1763.0 938.8 L1764.5 938.8 L1766.0 938.8 L1767.5 938.8 L1769.0 938.8 L1770.5 938.8 L1772.0 938.8 L1773.5 938.8 L1775.0 938.8 L1776.5 938.8 L1778.0 938.8 L1779.5 938.8 L1781.0 938.8 L1782.5 938.8 L1784.0 938.8 L1785.5 938.8 L1787.0 938.8 L1788.5 938.8 L1790.0 938.8 L1791.5 938.8 L1793.0 938.8 L1794.5 938.8 L1796.0 938.8 L1797.5 938.8 L1799.0 938.8 L1800.5 938.8 L1802.0 938.8 L1803.5 938.8 L1805.0 938.8 L1806.5 938.8 L1808.0 938.8 L1809.5 938.8 L1811.0 938.8 L1812.5 938.8 L1814.0 938.8 L1815.5 938.8 L1817.0 938.8 L1818.5 938.8 L1820.0 938.8 L1821.5 938.8 L1823.0 938.8 L1824.5 938.8 L1826.0 938.8 L1827.5 938.8 L1829.0 938.8 L1830.5 938.8 L1832.0 938.8 L1833.5 938.8 L1835.0 938.8 L1836.5 938.8 L1838.0 938.8 L1839.5 938.8 L1841.0 938.8 L1842.5 938.8 L1844.0 938.8 L1845.5 938.8 L1847.0 938.8 L1848.5 938.8 L1850.0 938.8 L1851.5 938.8 L1853.0 938.8 L1854.5 938.8 L1856.0 938.8 L1857.5 938.8 L1859.0 938.8 L1860.5 938.8 L1862.0 938.8 L1863.5 938.8 L1865.0 938.8 L1866.5 938.8 L1868.0 938.8 L1869.5 938.8 L1871.0 938.8 L1872.5 938.8 L1874.0 938.8 L1875.5 938.8 L1877.0 938.8 L1878.5 938.8 L1880.0 938.8 L1881.5 938.8 L1883.0 938.8 L1884.5 938.8 L1886.0 938.8 L1887.5 938.8 L1889.0 938.8 L1890.5 938.8 L1892.0 938.8 L1893.5 938.8 L1895.0 938.8 L1896.5 938.8 L1898.0 938.8 L1899.5 938.8 L1901.0 938.8 L1902.5 938.8 L1904.0 938.8 L1905.5 938.8 L1907.0 938.8 L1908.5 938.8 L1910.0 938.8 L1911.5 938.8 L1913.0 938.8 L1914.5 938.8 L1916.0 938.8 L1917.5 938.8 L1919.0 938.8 L1920.5 938.8 L1922.0 938.8 L1923.5 938.8 L1925.0 938.8 L1926.5 938.8 L1928.0 938.8 L1929.5 938.8 L1931.0 938.8 L1932.5 938.8 L1934.0 938.8 L1935.5 938.8 L1937.0 938.8 L1938.5 938.8 L1940.0 938.8 L1941.5 938.8 L1943.0 938.8 L1944.5 938.8 L1946.0 938.8 L1947.5 938.8 L1949.0 938.8 L1950.5 938.8 L1952.0 938.8 L1953.5 938.8 L1955.0 938.8 L1956.5 938.8 L1958.0 938.8 L1959.5 938.8 L1961.0 938.8 L1962.5 938.8 L1964.0 938.8 L1965.5 938.8 L1967.0 938.8 L1968.5 938.8 L1970.0 938.8 L1971.5 938.8 L1973.0 938.8 L1974.5 938.8 L1976.0 938.8 L1977.5 938.8 L1979.0 938.8 L1980.5 938.8 L1982.0 938.8 L1983.5 938.8 L1985.0 938.8 L1986.5 938.8 L1988.0 938.8 L1989.5 938.8 L1991.0 938.8 L1992.5 938.8 L1994.0 938.8 L1995.5 938.8 L1997.0 938.8 L1998.5 938.8 L2000.0 938.8 L2001.5 938.8 L2003.0 938.8 L2004.5 938.8 L2006.0 938.8 L2007.5 938.7 L2009.0 938.7 L2010.5 938.7 L2012.0 938.6 L2013.5 938.6 L2015.0 938.6 L2016.5 938.6 L2018.0 938.6 L2019.5 938.5 L2021.0 938.5 L2022.5 938.5 L2024.0 938.5 L2025.5 938.5 L2027.0 938.6 L2028.5 938.6 L2030.0 938.6 L2031.5 938.7 L2033.0 938.8 L2034.5 938.9 L2036.0 939.0 L2037.5 939.1 L2039.0 939.2 L2040.5 939.4 L2042.0 939.6 L2043.5 939.8 L2045.0 940.1 L2046.5 940.4 L2048.0 940.8 L2049.5 941.2 L2051.0 941.6 L2052.5 942.0 L2054.0 942.4 L2055.5 942.8 L2057.0 943.2 L2058.5 943.6 L2060.0 944.0 L2061.5 944.4 L2063.0 944.7 L2064.5 945.1 L2066.0 945.5 L2067.5 945.9 L2069.0 946.2 L2070.5 946.6 L2072.0 947.0 L2073.5 947.4 L2075.0 947.8 L2076.5 948.2 L2078.0 948.7 L2079.5 949.2 L2081.0 949.7 L2082.5 950.2 L2084.0 950.7 L2085.5 951.1 L2087.0 951.6 L2088.5 952.0 L2090.0 952.3 L2091.5 952.7 L2093.0 953.1 L2094.5 953.4 L2096.0 953.8 L2097.0 954.0" stroke="#00f80a"/>
<path d="M259.0 909.4 L260.5 910.3 L262.0 911.2 L263.5 912.1 L265.0 912.9 L266.5 913.7 L268.0 914.3 L269.5 914.9 L271.0 915.4 L272.5 915.8 L274.0 916.1 L275.5 916.4 L277.0 916.7 L278.5 917.0 L280.0 917.2 L281.5 917.5 L283.0 917.7 L284.5 918.0 L286.0 918.2 L287.5 918.3 L289.0 918.5 L290.5 918.7 L292.0 918.9 L293.5 919.1 L295.0 919.3 L296.5 919.5 L298.0 919.7 L299.5 919.9 L301.0 920.0 L302.5 920.2 L304.0 920.4 L305.5 920.6 L307.0 920.8 L308.5 920.9 L310.0 921.1 L311.5 921.3 L313.0 921.4 L314.5 921.6 L316.0 921.7 L317.5 921.9 L319.0 922.0 L320.5 922.1 L322.0 922.3 L323.5 922.4 L325.0 922.5 L326.5 922.6 L328.0 922.6 L329.5 922.7 L331.0 922.8 L332.5 922.8 L334.0 922.9 L335.5 922.9 L337.0 923.0 L338.5 923.0 L340.0 923.1 L341.5 923.1 L343.0 923.2 L344.5 923.2 L346.0 923.2 L347.5 923.3 L349.0 923.3 L350.5 923.3 L352.0 923.4 L353.5 923.4 L355.0 923.4 L356.5 923.4 L358.0 923.4 L359.5 923.4 L361.0 923.5 L362.5 923.5 L364.0 923.5 L365.5 923.5 L367.0 923.5 L368.5 923.5 L370.0 923.5 L371.5 923.5 L373.0 923.5 L374.5 923.5 L376.0 923.5 L377.5 923.4 L379.0 923.4 L380.5 923.4 L382.0 923.4 L383.5 923.4 L385.0 923.3 L386.5 923.3 L388.0 923.3 L389.5 923.2 L391.0 923.2 L392.5 923.2 L394.0 923.1 L395.5 923.1 L397.0 923.0 L398.5 923.0 L400.0 922.9 L401.5 922.9 L403.0 922.8 L404.5 922.7 L406.0 922.7 L407.5 922.6 L409.0 922.5 L410.5 922.5 L412.0 922.4 L413.5 922.3 L415.0 922.2 L416.5 922.2 L418.0 922.1 L419.5 922.0 L421.0 921.9 L422.5 921.8 L424.0 921.7 L425.5 921.6 L427.0 921.5 L428.5 921.4 L430.0 921.4 L431.5 921.3 L433.0 921.2 L434.5 921.1 L436.0 921.0 L437.5 920.9 L439.0 920.8 L440.5 920.7 L442.0 920.6 L443.5 920.5 L445.0 920.4 L446.5 920.3 L448.0 920.3 L449.5 920.2 L451.0 920.1 L452.5 920.0 L454.0 919.9 L455.5 919.8 L457.0 919.7 L458.5 919.6 L460.0 919.5 L461.5 919.4 L463.0 919.3 L464.5 919.2 L466.0 919.2 L467.5 919.1 L469.0 919.0 L470.5 918.9 L472.0 918.8 L473.5 918.7 L475.0 918.6 L476.5 918.5 L478.0 918.4 L479.5 918.3 L481.0 918.3 L482.5 918.2 L484.0 918.1 L485.5 918.0 L487.0 917.9 L488.5 917.8 L490.0 917.7 L491.5 917.7 L493.0 917.6 L494.5 917.5 L496.0 917.4 L497.5 917.3 L499.0 917.2 L500.5 917.2 L502.0 917.1 L503.5 917.0 L505.0 916.9 L506.5 916.8 L508.0 916.7 L509.5 916.7 L511.0 916.6 L512.5 916.5 L514.0 916.4 L515.5 916.3 L517.0 916.2 L518.5 916.2 L520.0 916.1 L521.5 916.0 L523.0 915.9 L524.5 915.8 L526.0 915.7 L527.5 915.7 L529.0 915.6 L530.5 915.5 L532.0 915.4 L533.5 915.3 L535.0 915.2 L536.5 915.1 L538.0 915.0 L539.5 914.9 L541.0 914.8 L542.5 914.7 L544.0 914.6 L545.5 914.4 L547.0 914.3 L548.5 914.2 L550.0 914.1 L551.5 913.9 L553.0 913.8 L554.5 913.7 L556.0 913.5 L557.5 913.4 L559.0 913.2 L560.5 913.1 L562.0 913.0 L563.5 912.8 L565.0 912.7 L566.5 912.5 L568.0 912.3 L569.5 912.2 L571.0 912.0 L572.5 911.9 L574.0 911.7 L575.5 911.6 L577.0 911.4 L578.5 911.2 L580.0 911.1 L581.5 910.9 L583.0 910.7 L584.5 910.6 L586.0 910.4 L587.5 910.2 L589.0 910.1 L590.5 909.9 L592.0 909.7 L593.5 909.6 L595.0 909.4 L596.5 909.2 L598.0 909.0 L599.5 908.8 L601.0 908.6 L602.5 908.4 L604.0 908.1 L605.5 907.9 L607.0 907.7 L608.5 907.4 L610.0 907.1 L611.5 906.9 L613.0 906.6 L614.5 906.3 L616.0 906.0 L617.5 905.7 L619.0 905.4 L620.5 905.1 L622.0 904.8 L623.5 904.5 L625.0 904.2 L626.5 903.8 L628.0 903.5 L629.5 903.2 L631.0 902.8 L632.5 902.5 L634.0 902.1 L635.5 901.7 L637.0 901.4 L638.5 901.0 L640.0 900.6 L641.5 900.2 L643.0 899.9 L644.5 899.5 L646.0 899.1 L647.5 898.7 L649.0 898.3 L650.5 897.9 L652.0 897.5 L653.5 897.1 L655.0 896.7 L656.5 896.3 L658.0 895.9 L659.5 895.5 L661.0 895.0 L662.5 894.6 L664.0 894.1 L665.5 893.7 L667.0 893.2 L668.5 892.7 L670.0 892.2 L671.5 891.7 L673.0 891.2 L674.5 890.7 L676.0 890.2 L677.5 889.7 L679.0 889.1 L680.5 888.6 L682.0 888.0 L683.5 887.5 L685.0 886.9 L686.5 886.3 L688.0 885.7 L689.5 885.1 L691.0 884.5 L692.5 883.9 L694.0 883.2 L695.5 882.6 L697.0 882.0 L698.5 881.3 L700.0 880.6 L701.5 880.0 L703.0 879.3 L704.5 878.6 L706.0 877.9 L707.5 877.2 L709.0 876.4 L710.5 875.7 L712.0 875.0 L713.5 874.2 L715.0 873.4 L716.5 872.7 L718.0 871.9 L719.5 871.1 L721.0 870.3 L722.5 869.5 L724.0 868.7 L725.5 867.9 L727.0 867.1 L728.5 866.2 L730.0 865.4 L731.5 864.6 L733.0 863.7 L734.5 862.9 L736.0 862.0 L737.5 861.1 L739.0 860.3 L740.5 859.4 L742.0 858.5 L743.5 857.6 L745.0 856.7 L746.5 855.8 L748.0 854.8 L749.5 853.9 L751.0 853.0 L752.5 852.0 L754.0 851.1 L755.5 850.1 L757.0 849.2 L758.5 848.2 L760.0 847.2 L761.5 846.2 L763.0 845.2 L764.5 844.2 L766.0 843.2 L767.5 842.2 L769.0 841.1 L770.5 840.1 L772.0 839.0 L773.5 838.0 L775.0 836.9 L776.5 835.8 L778.0 834.7 L779.5 833.6 L781.0 832.5 L782.5 831.4 L784.0 830.2 L785.5 829.1 L787.0 827.9 L788.5 826.8 L790.0 825.5 L791.5 824.3 L793.0 823.1 L794.5 821.9 L796.0 820.7 L797.5 819.4 L799.0 818.2 L800.5 817.0 L802.0 815.7 L803.5 814.5 L805.0 813.2 L806.5 811.9 L808.0 810.6 L809.5 809.3 L811.0 808.0 L812.5 806.7 L814.0 805.3 L815.5 803.9 L817.0 802.6 L818.5 801.2 L820.0 799.8 L821.5 798.4 L823.0 797.0 L824.5 795.6 L826.0 794.2 L827.5 792.7 L829.0 791.3 L830.5 789.9 L832.0 788.4 L833.5 787.0 L835.0 785.5 L836.5 784.1 L838.0 782.6 L839.5 781.2 L841.0 779.7 L842.5 778.2 L844.0 776.7 L845.5 775.2 L847.0 773.6 L848.5 772.0 L850.0 770.4 L851.5 768.8 L853.0 767.2 L854.5 765.6 L856.0 764.0 L857.5 762.4 L859.0 760.8 L860.5 759.3 L862.0 757.8 L863.5 756.3 L865.0 754.9 L866.5 753.6 L868.0 752.5 L869.5 751.6 L871.0 750.7 L872.5 749.4 L874.0 747.9 L875.5 746.5 L877.0 745.2 L878.5 743.8 L880.0 742.4 L881.5 741.0 L883.0 739.6 L884.5 738.2 L886.0 736.8 L887.5 735.4 L889.0 734.0 L890.5 732.6 L892.0 731.2 L893.5 729.9 L895.0 728.5 L896.5 727.1 L898.0 725.8 L899.5 724.4 L901.0 723.1 L902.5 721.8 L904.0 720.5 L905.5 719.2 L907.0 717.9 L908.5 716.6 L910.0 715.3 L911.5 714.0 L913.0 712.7 L914.5 711.4 L916.0 710.1 L917.5 708.9 L919.0 707.6 L920.5 706.4 L922.0 705.1 L923.5 703.9 L925.0 702.7 L926.5 701.5 L928.0 700.3 L929.5 699.1 L931.0 697.9 L932.5 696.8 L934.0 695.6 L935.5 694.4 L937.0 693.3 L938.5 692.1 L940.0 691.0 L941.5 689.9 L943.0 688.7 L944.5 687.6 L946.0 686.5 L947.5 685.4 L949.0 684.3 L950.5 683.3 L952.0 682.2 L953.5 681.2 L955.0 680.2 L956.5 679.2 L958.0 678.2 L959.5 677.2 L961.0 676.2 L962.5 675.2 L964.0 674.3 L965.5 673.3 L967.0 672.3 L968.5 671.4 L970.0 670.4 L971.5 669.5 L973.0 668.5 L974.5 667.6 L976.0 666.6 L977.5 665.7 L979.0 664.7 L980.5 663.8 L982.0 662.9 L983.5 661.9 L985.0 661.0 L986.5 660.1 L988.0 659.2 L989.5 658.3 L991.0 657.4 L992.5 656.4 L994.0 655.5 L995.5 654.6 L997.0 653.7 L998.5 652.8 L1000.0 651.9 L1001.5 651.0 L1003.0 650.0 L1004.5 649.1 L1006.0 648.2 L1007.5 647.2 L1009.0 646.3 L1010.5 645.3 L1012.0 644.3 L1013.5 643.4 L1015.0 642.4 L1016.5 641.4 L1018.0 640.4 L1019.5 639.4 L1021.0 638.4 L1022.5 637.4 L1024.0 636.3 L1025.5 635.3 L1027.0 634.2 L1028.5 633.1 L1030.0 632.0 L1031.5 630.9 L1033.0 629.8 L1034.5 628.6 L1036.0 627.5 L1037.5 626.3 L1039.0 625.1 L1040.5 623.9 L1042.0 622.7 L1043.5 621.5 L1045.0 620.3 L1046.5 619.0 L1048.0 617.8 L1049.5 616.5 L1051.0 615.3 L1052.5 614.0 L1054.0 612.6 L1055.5 611.3 L1057.0 609.9 L1058.5 608.5 L1060.0 607.0 L1061.5 605.6 L1063.0 604.1 L1064.5 602.6 L1066.0 601.1 L1067.5 599.6 L1069.0 598.0 L1070.5 596.5 L1072.0 594.9 L1073.5 593.3 L1075.0 591.7 L1076.5 590.1 L1078.0 588.5 L1079.5 586.9 L1081.0 585.3 L1082.5 583.7 L1084.0 582.0 L1085.5 580.3 L1087.0 578.7 L1088.5 577.0 L1090.0 575.3 L1091.5 573.5 L1093.0 571.8 L1094.5 570.0 L1096.0 568.3 L1097.5 566.5 L1099.0 564.7 L1100.5 562.9 L1102.0 561.1 L1103.5 559.2 L1105.0 557.4 L1106.5 555.6 L1108.0 553.8 L1109.5 551.9 L1111.0 550.1 L1112.5 548.2 L1114.0 546.4 L1115.5 544.5 L1117.0 542.6 L1118.5 540.7 L1120.0 538.8 L1121.5 536.9 L1123.0 535.0 L1124.5 533.0 L1126.0 531.1 L1127.5 529.1 L1129.0 527.2 L1130.5 525.3 L1132.0 523.3 L1133.5 521.4 L1135.0 519.4 L1136.5 517.5 L1138.0 515.5 L1139.5 513.5 L1141.0 511.6 L1142.5 509.6 L1144.0 507.6 L1145.5 505.6 L1147.0 503.7 L1148.5 501.7 L1150.0 499.7 L1151.5 497.7 L1153.0 495.7 L1154.5 493.7 L1156.0 491.7 L1157.5 489.7 L1159.0 487.7 L1160.5 485.7 L1162.0 483.7 L1163.5 481.7 L1165.0 479.7 L1166.5 477.6 L1168.0 475.6 L1169.5 473.6 L1171.0 471.6 L1172.5 469.5 L1174.0 467.5 L1175.5 465.4 L1177.0 463.4 L1178.5 461.3 L1180.0 459.2 L1181.5 457.2 L1183.0 455.1 L1184.5 453.0 L1186.0 450.9 L1187.5 448.8 L1189.0 446.7 L1190.5 444.6 L1192.0 442.4 L1193.5 440.3 L1195.0 438.1 L1196.5 436.0 L1198.0 433.8 L1199.5 431.6 L1201.0 429.4 L1202.5 427.2 L1204.0 425.0 L1205.5 422.8 L1207.0 420.6 L1208.5 418.4 L1210.0 416.1 L1211.5 413.9 L1213.0 411.6 L1214.5 409.4 L1216.0 407.1 L1217.5 404.8 L1219.0 402.5 L1220.5 400.1 L1222.0 397.8 L1223.5 395.4 L1225.0 393.0 L1226.5 390.6 L1228.0 388.2 L1229.5 385.8 L1231.0 383.3 L1232.5 380.9 L1234.0 378.4 L1235.5 376.0 L1237.0 373.5 L1238.5 371.1 L1240.0 368.6 L1241.5 366.1 L1243.0 363.6 L1244.5 361.1 L1246.0 358.6 L1247.5 356.0 L1249.0 353.5 L1250.5 351.0 L1252.0 348.4 L1253.5 345.9 L1255.0 343.4 L1256.5 340.8 L1258.0 338.3 L1259.5 335.8 L1261.0 333.2 L1262.5 330.7 L1264.0 328.2 L1265.5 325.7 L1267.0 323.1 L1268.5 320.6 L1270.0 318.1 L1271.5 315.6 L1273.0 313.1 L1274.5 310.6 L1276.0 308.1 L1277.5 305.7 L1279.0 303.2 L1280.5 300.8 L1282.0 298.4 L1283.5 296.0 L1285.0 293.6 L1286.5 291.2 L1288.0 288.8 L1289.5 286.5 L1291.0 284.1 L1292.5 281.7 L1294.0 279.4 L1295.5 277.1 L1297.0 274.8 L1298.5 272.6 L1300.0 270.4 L1301.5 268.2 L1303.0 266.0 L1304.5 263.9 L1306.0 261.8 L1307.5 259.7 L1309.0 257.6 L1310.5 255.5 L1312.0 253.5 L1313.5 251.4 L1315.0 249.4 L1316.5 247.4 L1318.0 245.4 L1319.5 243.5 L1321.0 241.7 L1322.5 239.9 L1324.0 238.2 L1325.5 236.4 L1327.0 234.7 L1328.5 233.1 L1330.0 231.4 L1331.5 229.8 L1333.0 228.2 L1334.5 226.6 L1336.0 225.0 L1337.5 223.5 L1339.0 222.0 L1340.5 220.5 L1342.0 219.1 L1343.5 217.8 L1345.0 216.6 L1346.5 215.4 L1348.0 214.2 L1349.5 213.1 L1351.0 212.0 L1352.5 211.0 L1354.0 210.0 L1355.5 209.0 L1357.0 208.1 L1358.5 207.2 L1360.0 206.3 L1361.5 205.5 L1363.0 204.7 L1364.5 204.0 L1366.0 203.3 L1367.5 202.8 L1369.0 202.3 L1370.5 201.8 L1372.0 201.4 L1373.5 201.1 L1375.0 200.8 L1376.5 200.6 L1378.0 200.3 L1379.5 200.2 L1381.0 200.0 L1382.5 200.0 L1384.0 200.0 L1385.5 200.1 L1387.0 200.3 L1388.5 200.5 L1390.0 200.8 L1391.5 201.1 L1393.0 201.5 L1394.5 202.0 L1396.0 202.5 L1397.5 203.1 L1399.0 203.7 L1400.5 204.4 L1402.0 205.2 L1403.5 206.1 L1405.0 207.0 L1406.5 208.0 L1408.0 209.0 L1409.5 210.2 L1411.0 211.4 L1412.5 212.6 L1414.0 214.0 L1415.5 215.4 L1417.0 216.9 L1418.5 218.4 L1420.0 220.0 L1421.5 221.7 L1423.0 223.5 L1424.5 225.3 L1426.0 227.2 L1427.5 229.2 L1429.0 231.3 L1430.5 233.5 L1432.0 235.7 L1433.5 238.1 L1435.0 240.5 L1436.5 243.0 L1438.0 245.6 L1439.5 248.2 L1441.0 250.9 L1442.5 253.7 L1444.0 256.6 L1445.5 259.5 L1447.0 262.5 L1448.5 265.6 L1450.0 268.8 L1451.5 272.1 L1453.0 275.4 L1454.5 278.7 L1456.0 282.1 L1457.5 285.5 L1459.0 289.0 L1460.5 292.5 L1462.0 296.1 L1463.5 299.8 L1465.0 303.5 L1466.5 307.2 L1468.0 311.0 L1469.5 314.8 L1471.0 318.7 L1472.5 322.6 L1474.0 326.5 L1475.5 330.5 L1477.0 334.5 L1478.5 338.6 L1480.0 342.6 L1481.5 346.7 L1483.0 350.8 L1484.5 354.9 L1486.0 359.0 L1487.5 363.2 L1489.0 367.4 L1490.5 371.6 L1492.0 375.8 L1493.5 380.0 L1495.0 384.2 L1496.5 388.4 L1498.0 392.7 L1499.5 397.0 L1501.0 401.3 L1502.5 405.6 L1504.0 409.9 L1505.5 414.2 L1507.0 418.5 L1508.5 422.8 L1510.0 427.1 L1511.5 431.5 L1513.0 435.8 L1514.5 440.2 L1516.0 444.5 L1517.5 448.9 L1519.0 453.2 L1520.5 457.6 L1522.0 461.9 L1523.5 466.3 L1525.0 470.7 L1526.5 475.0 L1528.0 479.4 L1529.5 483.7 L1531.0 488.1 L1532.5 492.4 L1534.0 496.8 L1535.5 501.1 L1537.0 505.5 L1538.5 509.8 L1540.0 514.1 L1541.5 518.4 L1543.0 522.8 L1544.5 527.0 L1546.0 531.3 L1547.5 535.6 L1549.0 539.9 L1550.5 544.1 L1552.0 548.4 L1553.5 552.6 L1555.0 556.8 L1556.5 561.0 L1558.0 565.2 L1559.5 569.3 L1561.0 573.5 L1562.5 577.6 L1564.0 581.7 L1565.5 585.8 L1567.0 589.8 L1568.5 593.9 L1570.0 597.9 L1571.5 601.9 L1573.0 605.9 L1574.5 609.9 L1576.0 613.8 L1577.5 617.7 L1579.0 621.6 L1580.5 625.4 L1582.0 629.2 L1583.5 633.0 L1585.0 636.8 L1586.5 640.5 L1588.0 644.3 L1589.5 647.9 L1591.0 651.6 L1592.5 655.3 L1594.0 658.9 L1595.5 662.5 L1597.0 666.0 L1598.5 669.5 L1600.0 673.0 L1601.5 676.4 L1603.0 679.8 L1604.5 683.2 L1606.0 686.6 L1607.5 689.9 L1609.0 693.2 L1610.5 696.5 L1612.0 699.7 L1613.5 702.9 L1615.0 706.0 L1616.5 709.1 L1618.0 712.2 L1619.5 715.3 L1621.0 718.3 L1622.5 721.2 L1624.0 724.2 L1625.5 727.1 L1627.0 729.9 L1628.5 732.7 L1630.0 735.5 L1631.5 738.3 L1633.0 741.0 L1634.5 743.7 L1636.0 746.4 L1637.5 749.0 L1639.0 751.7 L1640.5 754.2 L1642.0 756.8 L1643.5 759.3 L1645.0 761.7 L1646.5 764.2 L1648.0 766.6 L1649.5 769.0 L1651.0 771.3 L1652.5 773.6 L1654.0 775.9 L1655.5 778.1 L1657.0 780.3 L1658.5 782.5 L1660.0 784.7 L1661.5 786.8 L1663.0 789.0 L1664.5 791.1 L1666.0 793.1 L1667.5 795.2 L1669.0 797.2 L1670.5 799.2 L1672.0 801.1 L1673.5 803.1 L1675.0 805.0 L1676.5 806.9 L1678.0 808.8 L1679.5 810.6 L1681.0 812.4 L1682.5 814.2 L1684.0 816.0 L1685.5 817.8 L1687.0 819.5 L1688.5 821.2 L1690.0 822.9 L1691.5 824.5 L1693.0 826.2 L1694.5 827.8 L1696.0 829.4 L1697.5 830.9 L1699.0 832.5 L1700.5 834.0 L1702.0 835.5 L1703.5 836.9 L1705.0 838.4 L1706.5 839.8 L1708.0 841.2 L1709.5 842.6 L1711.0 844.0 L1712.5 845.4 L1714.0 846.7 L1715.5 848.1 L1717.0 849.4 L1718.5 850.7 L1720.0 852.0 L1721.5 853.3 L1723.0 854.6 L1724.5 855.8 L1726.0 857.0 L1727.5 858.3 L1729.0 859.5 L1730.5 860.7 L1732.0 861.8 L1733.5 863.0 L1735.0 864.1 L1736.5 865.2 L1738.0 866.3 L1739.5 867.4 L1741.0 868.4 L1742.5 869.5 L1744.0 870.5 L1745.5 871.5 L1747.0 872.5 L1748.5 873.5 L1750.0 874.5 L1751.5 875.5 L1753.0 876.5 L1754.5 877.4 L1756.0 878.3 L1757.5 879.2 L1759.0 880.1 L1760.5 881.0 L1762.0 881.9 L1763.5 882.7 L1765.0 883.5 L1766.5 884.3 L1768.0 885.1 L1769.5 885.9 L1771.0 886.7 L1772.5 887.5 L1774.0 888.2 L1775.5 889.0 L1777.0 889.8 L1778.5 890.5 L1780.0 891.2 L1781.5 891.9 L1783.0 892.7 L1784.5 893.4 L1786.0 894.0 L1787.5 894.7 L1789.0 895.4 L1790.5 896.0 L1792.0 896.6 L1793.5 897.2 L1795.0 897.8 L1796.5 898.5 L1798.0 899.1 L1799.5 899.6 L1801.0 900.2 L1802.5 900.8 L1804.0 901.4 L1805.5 901.9 L1807.0 902.5 L1808.5 903.0 L1810.0 903.5 L1811.5 904.1 L1813.0 904.6 L1814.5 905.1 L1816.0 905.6 L1817.5 906.0 L1819.0 906.5 L1820.5 907.0 L1822.0 907.5 L1823.5 907.9 L1825.0 908.4 L1826.5 908.8 L1828.0 909.3 L1829.5 909.7 L1831.0 910.1 L1832.5 910.5 L1834.0 911.0 L1835.5 911.4 L1837.0 911.8 L1838.5 912.2 L1840.0 912.5 L1841.5 912.9 L1843.0 913.3 L1844.5 913.7 L1846.0 914.0 L1847.5 914.4 L1849.0 914.7 L1850.5 915.1 L1852.0 915.4 L1853.5 915.8 L1855.0 916.1 L1856.5 916.4 L1858.0 916.7 L1859.5 917.0 L1861.0 917.3 L1862.5 917.6 L1864.0 917.9 L1865.5 918.2 L1867.0 918.4 L1868.5 918.7 L1870.0 919.0 L1871.5 919.2 L1873.0 919.5 L1874.5 919.7 L1876.0 920.0 L1877.5 920.2 L1879.0 920.4 L1880.5 920.7 L1882.0 920.9 L1883.5 921.1 L1885.0 921.4 L1886.5 921.6 L1888.0 921.8 L1889.5 922.0 L1891.0 922.2 L1892.5 922.4 L1894.0 922.6 L1895.5 922.8 L1897.0 923.0 L1898.5 923.2 L1900.0 923.3 L1901.5 923.5 L1903.0 923.7 L1904.5 923.8 L1906.0 924.0 L1907.5 924.1 L1909.0 924.3 L1910.5 924.5 L1912.0 924.6 L1913.5 924.7 L1915.0 924.9 L1916.5 925.0 L1918.0 925.2 L1919.5 925.3 L1921.0 925.4 L1922.5 925.6 L1924.0 925.7 L1925.5 925.8 L1927.0 925.9 L1928.5 926.0 L1930.0 926.1 L1931.5 926.2 L1933.0 926.3 L1934.5 926.4 L1936.0 926.5 L1937.5 926.6 L1939.0 926.7 L1940.5 926.7 L1942.0 926.8 L1943.5 926.9 L1945.0 927.0 L1946.5 927.1 L1948.0 927.1 L1949.5 927.2 L1951.0 927.3 L1952.5 927.4 L1954.0 927.4 L1955.5 927.5 L1957.0 927.6 L1958.5 927.6 L1960.0 927.7 L1961.5 927.8 L1963.0 927.9 L1964.5 927.9 L1966.0 928.0 L1967.5 928.0 L1969.0 928.1 L1970.5 928.2 L1972.0 928.2 L1973.5 928.3 L1975.0 928.4 L1976.5 928.4 L1978.0 928.5 L1979.5 928.5 L1981.0 928.6 L1982.5 928.6 L1984.0 928.7 L1985.5 928.7 L1987.0 928.7 L1988.5 928.8 L1990.0 928.8 L1991.5 928.9 L1993.0 928.9 L1994.5 928.9 L1996.0 929.0 L1997.5 929.0 L1999.0 929.0 L2000.5 929.1 L2002.0 929.1 L2003.5 929.2 L2005.0 929.2 L2006.5 929.3 L2008.0 929.3 L2009.5 929.3 L2011.0 929.4 L2012.5 929.4 L2014.0 929.5 L2015.5 929.5 L2017.0 929.6 L2018.5 929.7 L2020.0 929.7 L2021.5 929.8 L2023.0 929.9 L2024.5 929.9 L2026.0 930.0 L2027.5 930.1 L2029.0 930.2 L2030.5 930.3 L2032.0 930.3 L2033.5 930.4 L2035.0 930.5 L2036.5 930.6 L2038.0 930.7 L2039.5 930.8 L2041.0 930.9 L2042.5 931.0 L2044.0 931.1 L2045.5 931.1 L2047.0 931.2 L2048.5 931.3 L2050.0 931.4 L2051.5 931.5 L2053.0 931.6 L2054.5 931.7 L2056.0 931.8 L2057.5 931.9 L2059.0 932.0 L2060.5 932.1 L2062.0 932.2 L2063.5 932.3 L2065.0 932.3 L2066.5 932.4 L2068.0 932.5 L2069.5 932.6 L2071.0 932.7 L2072.5 932.8 L2074.0 932.9 L2075.5 933.0 L2077.0 933.1 L2078.5 933.2 L2080.0 933.3 L2081.5 933.4 L2083.0 933.5 L2084.5 933.5 L2086.0 933.6 L2087.5 933.7 L2089.0 933.8 L2090.5 933.9 L2092.0 934.0 L2093.5 934.1 L2095.0 934.2 L2096.5 934.4 L2097.0 934.5" stroke="#ff0018"/>
<path d="M260.0 915.7 L261.5 915.7 L263.0 915.8 L264.5 915.8 L266.0 915.8 L267.5 915.9 L269.0 915.9 L270.5 915.9 L272.0 915.9 L273.5 916.0 L275.0 916.0 L276.5 916.0 L278.0 916.1 L279.5 916.1 L281.0 916.1 L282.5 916.1 L284.0 916.2 L285.5 916.2 L287.0 916.2 L288.5 916.2 L290.0 916.3 L291.5 916.3 L293.0 916.3 L294.5 916.3 L296.0 916.3 L297.5 916.4 L299.0 916.4 L300.5 916.4 L302.0 916.4 L303.5 916.4 L305.0 916.5 L306.5 916.5 L308.0 916.5 L309.5 916.5 L311.0 916.5 L312.5 916.5 L314.0 916.6 L315.5 916.6 L317.0 916.6 L318.5 916.6 L320.0 916.6 L321.5 916.6 L323.0 916.7 L324.5 916.7 L326.0 916.7 L327.5 916.7 L329.0 916.7 L330.5 916.7 L332.0 916.8 L333.5 916.8 L335.0 916.8 L336.5 916.8 L338.0 916.8 L339.5 916.8 L341.0 916.8 L342.5 916.8 L344.0 916.8 L345.5 916.8 L347.0 916.9 L348.5 916.9 L350.0 916.9 L351.5 916.9 L353.0 916.9 L354.5 916.9 L356.0 916.9 L357.5 916.9 L359.0 916.9 L360.5 916.9 L362.0 916.9 L363.5 916.9 L365.0 916.9 L366.5 916.9 L368.0 916.9 L369.5 916.9 L371.0 916.9 L372.5 916.9 L374.0 916.9 L375.5 916.9 L377.0 916.9 L378.5 916.9 L380.0 916.9 L381.5 916.9 L383.0 916.8 L384.5 916.8 L386.0 916.8 L387.5 916.8 L389.0 916.8 L390.5 916.8 L392.0 916.8 L393.5 916.8 L395.0 916.8 L396.5 916.8 L398.0 916.8 L399.5 916.8 L401.0 916.8 L402.5 916.8 L404.0 916.8 L405.5 916.8 L407.0 916.8 L408.5 916.7 L410.0 916.7 L411.5 916.7 L413.0 916.7 L414.5 916.7 L416.0 916.7 L417.5 916.7 L419.0 916.7 L420.5 916.7 L422.0 916.7 L423.5 916.7 L425.0 916.7 L426.5 916.6 L428.0 916.6 L429.5 916.6 L431.0 916.6 L432.5 916.5 L434.0 916.5 L435.5 916.5 L437.0 916.4 L438.5 916.4 L440.0 916.3 L441.5 916.3 L443.0 916.3 L444.5 916.2 L446.0 916.2 L447.5 916.1 L449.0 916.1 L450.5 916.0 L452.0 915.9 L453.5 915.9 L455.0 915.8 L456.5 915.8 L458.0 915.7 L459.5 915.6 L461.0 915.6 L462.5 915.5 L464.0 915.4 L465.5 915.4 L467.0 915.3 L468.5 915.2 L470.0 915.1 L471.5 915.1 L473.0 915.0 L474.5 914.9 L476.0 914.8 L477.5 914.8 L479.0 914.7 L480.5 914.6 L482.0 914.5 L483.5 914.4 L485.0 914.3 L486.5 914.2 L488.0 914.1 L489.5 913.9 L491.0 913.7 L492.5 913.6 L494.0 913.4 L495.5 913.2 L497.0 913.0 L498.5 912.8 L500.0 912.5 L501.5 912.3 L503.0 912.0 L504.5 911.8 L506.0 911.5 L507.5 911.2 L509.0 911.0 L510.5 910.7 L512.0 910.4 L513.5 910.1 L515.0 909.8 L516.5 909.4 L518.0 909.1 L519.5 908.8 L521.0 908.5 L522.5 908.1 L524.0 907.8 L525.5 907.5 L527.0 907.1 L528.5 906.8 L530.0 906.4 L531.5 906.1 L533.0 905.7 L534.5 905.3 L536.0 905.0 L537.5 904.5 L539.0 904.1 L540.5 903.7 L542.0 903.3 L543.5 902.8 L545.0 902.4 L546.5 901.9 L548.0 901.4 L549.5 900.9 L551.0 900.4 L552.5 899.9 L554.0 899.3 L555.5 898.8 L557.0 898.2 L558.5 897.7 L560.0 897.1 L561.5 896.5 L563.0 895.9 L564.5 895.3 L566.0 894.7 L567.5 894.0 L569.0 893.4 L570.5 892.7 L572.0 892.1 L573.5 891.4 L575.0 890.7 L576.5 890.0 L578.0 889.3 L579.5 888.6 L581.0 887.9 L582.5 887.2 L584.0 886.4 L585.5 885.6 L587.0 884.9 L588.5 884.1 L590.0 883.3 L591.5 882.5 L593.0 881.6 L594.5 880.8 L596.0 879.9 L597.5 879.0 L599.0 878.2 L600.5 877.2 L602.0 876.3 L603.5 875.4 L605.0 874.5 L606.5 873.5 L608.0 872.5 L609.5 871.6 L611.0 870.6 L612.5 869.6 L614.0 868.5 L615.5 867.5 L617.0 866.5 L618.5 865.4 L620.0 864.3 L621.5 863.2 L623.0 862.1 L624.5 861.0 L626.0 859.9 L627.5 858.8 L629.0 857.6 L630.5 856.5 L632.0 855.3 L633.5 854.1 L635.0 852.9 L636.5 851.7 L638.0 850.4 L639.5 849.2 L641.0 847.9 L642.5 846.6 L644.0 845.3 L645.5 843.9 L647.0 842.6 L648.5 841.2 L650.0 839.8 L651.5 838.4 L653.0 836.9 L654.5 835.4 L656.0 834.0 L657.5 832.5 L659.0 830.9 L660.5 829.4 L662.0 827.9 L663.5 826.3 L665.0 824.8 L666.5 823.2 L668.0 821.6 L669.5 820.0 L671.0 818.4 L672.5 816.8 L674.0 815.1 L675.5 813.4 L677.0 811.7 L678.5 810.0 L680.0 808.3 L681.5 806.5 L683.0 804.8 L684.5 803.0 L686.0 801.2 L687.5 799.4 L689.0 797.5 L690.5 795.7 L692.0 793.8 L693.5 791.9 L695.0 789.9 L696.5 787.9 L698.0 785.9 L699.5 783.9 L701.0 781.8 L702.5 779.7 L704.0 777.7 L705.5 775.6 L707.0 773.5 L708.5 771.4 L710.0 769.4 L711.5 767.3 L713.0 765.2 L714.5 763.1 L716.0 761.1 L717.5 759.0 L719.0 756.9 L720.5 754.9 L722.0 752.8 L723.5 750.8 L725.0 748.7 L726.5 746.7 L728.0 744.6 L729.5 742.6 L731.0 740.6 L732.5 738.5 L734.0 736.5 L735.5 734.5 L737.0 732.5 L738.5 730.5 L740.0 728.5 L741.5 726.5 L743.0 724.5 L744.5 722.5 L746.0 720.5 L747.5 718.6 L749.0 716.8 L750.5 714.9 L752.0 713.2 L753.5 711.4 L755.0 709.7 L756.5 708.0 L758.0 706.4 L759.5 704.7 L761.0 703.2 L762.5 701.6 L764.0 700.1 L765.5 698.6 L767.0 697.1 L768.5 695.6 L770.0 694.2 L771.5 692.8 L773.0 691.4 L774.5 690.0 L776.0 688.6 L777.5 687.3 L779.0 685.9 L780.5 684.6 L782.0 683.2 L783.5 681.9 L785.0 680.6 L786.5 679.3 L788.0 678.0 L789.5 676.7 L791.0 675.4 L792.5 674.2 L794.0 672.9 L795.5 671.7 L797.0 670.5 L798.5 669.3 L800.0 668.1 L801.5 667.0 L803.0 665.8 L804.5 664.7 L806.0 663.6 L807.5 662.4 L809.0 661.3 L810.5 660.2 L812.0 659.1 L813.5 658.0 L815.0 656.9 L816.5 655.7 L818.0 654.6 L819.5 653.5 L821.0 652.4 L822.5 651.2 L824.0 650.1 L825.5 649.0 L827.0 647.8 L828.5 646.7 L830.0 645.6 L831.5 644.4 L833.0 643.3 L834.5 642.1 L836.0 640.9 L837.5 639.8 L839.0 638.6 L840.5 637.4 L842.0 636.2 L843.5 634.9 L845.0 633.4 L846.5 631.9 L848.0 630.4 L849.5 628.8 L851.0 627.2 L852.5 625.5 L854.0 623.9 L855.5 622.3 L857.0 620.7 L858.5 619.1 L860.0 617.6 L861.5 616.2 L863.0 614.9 L864.5 613.7 L866.0 612.5 L867.5 611.5 L869.0 610.6 L870.5 609.8 L872.0 609.4 L873.5 609.0 L875.0 608.1 L876.5 606.7 L878.0 605.0 L879.5 603.2 L881.0 601.4 L882.5 599.5 L884.0 597.6 L885.5 595.7 L887.0 593.7 L888.5 591.8 L890.0 589.9 L891.5 588.0 L893.0 586.0 L894.5 584.1 L896.0 582.2 L897.5 580.3 L899.0 578.3 L900.5 576.3 L902.0 574.4 L903.5 572.4 L905.0 570.4 L906.5 568.4 L908.0 566.3 L909.5 564.2 L911.0 562.1 L912.5 560.0 L914.0 557.9 L915.5 555.7 L917.0 553.5 L918.5 551.2 L920.0 549.0 L921.5 546.7 L923.0 544.3 L924.5 542.0 L926.0 539.6 L927.5 537.2 L929.0 534.8 L930.5 532.4 L932.0 529.9 L933.5 527.4 L935.0 524.9 L936.5 522.4 L938.0 519.9 L939.5 517.3 L941.0 514.7 L942.5 512.1 L944.0 509.5 L945.5 506.8 L947.0 504.2 L948.5 501.5 L950.0 498.8 L951.5 496.1 L953.0 493.3 L954.5 490.6 L956.0 487.8 L957.5 485.0 L959.0 482.2 L960.5 479.4 L962.0 476.6 L963.5 473.8 L965.0 470.9 L966.5 468.1 L968.0 465.3 L969.5 462.4 L971.0 459.5 L972.5 456.6 L974.0 453.7 L975.5 450.8 L977.0 447.9 L978.5 445.0 L980.0 442.1 L981.5 439.2 L983.0 436.3 L984.5 433.4 L986.0 430.4 L987.5 427.5 L989.0 424.6 L990.5 421.6 L992.0 418.7 L993.5 415.8 L995.0 412.8 L996.5 409.9 L998.0 406.9 L999.5 404.0 L1001.0 401.1 L1002.5 398.1 L1004.0 395.2 L1005.5 392.2 L1007.0 389.3 L1008.5 386.3 L1010.0 383.4 L1011.5 380.4 L1013.0 377.5 L1014.5 374.5 L1016.0 371.6 L1017.5 368.6 L1019.0 365.7 L1020.5 362.7 L1022.0 359.7 L1023.5 356.8 L1025.0 353.8 L1026.5 350.8 L1028.0 347.9 L1029.5 344.9 L1031.0 341.9 L1032.5 339.0 L1034.0 336.0 L1035.5 333.0 L1037.0 330.1 L1038.5 327.1 L1040.0 324.1 L1041.5 321.1 L1043.0 318.2 L1044.5 315.2 L1046.0 312.2 L1047.5 309.2 L1049.0 306.2 L1050.5 303.3 L1052.0 300.3 L1053.5 297.3 L1055.0 294.3 L1056.5 291.3 L1058.0 288.3 L1059.5 285.3 L1061.0 282.4 L1062.5 279.4 L1064.0 276.4 L1065.5 273.4 L1067.0 270.5 L1068.5 267.5 L1070.0 264.6 L1071.5 261.7 L1073.0 258.8 L1074.5 256.0 L1076.0 253.2 L1077.5 250.5 L1079.0 247.7 L1080.5 245.0 L1082.0 242.3 L1083.5 239.7 L1085.0 237.0 L1086.5 234.4 L1088.0 232.0 L1089.5 229.6 L1091.0 227.3 L1092.5 225.1 L1094.0 223.0 L1095.5 220.9 L1097.0 218.9 L1098.5 217.0 L1100.0 215.1 L1101.5 213.3 L1103.0 211.5 L1104.5 209.9 L1106.0 208.4 L1107.5 207.1 L1109.0 205.8 L1110.5 204.7 L1112.0 203.7 L1113.5 202.7 L1115.0 201.9 L1116.5 201.1 L1118.0 200.5 L1119.5 200.0 L1121.0 199.6 L1122.5 199.4 L1124.0 199.3 L1125.5 199.4 L1127.0 199.5 L1128.5 199.8 L1130.0 200.2 L1131.5 200.8 L1133.0 201.5 L1134.5 202.3 L1136.0 203.3 L1137.5 204.4 L1139.0 205.6 L1140.5 207.0 L1142.0 208.6 L1143.5 210.3 L1145.0 212.1 L1146.5 214.1 L1148.0 216.3 L1149.5 218.6 L1151.0 221.1 L1152.5 223.6 L1154.0 226.3 L1155.5 229.1 L1157.0 232.0 L1158.5 235.0 L1160.0 238.2 L1161.5 241.5 L1163.0 244.9 L1164.5 248.5 L1166.0 252.1 L1167.5 255.9 L1169.0 259.8 L1170.5 263.7 L1172.0 267.8 L1173.5 272.0 L1175.0 276.3 L1176.5 280.8 L1178.0 285.4 L1179.5 290.0 L1181.0 294.8 L1182.5 299.5 L1184.0 304.4 L1185.5 309.4 L1187.0 314.5 L1188.5 319.6 L1190.0 324.9 L1191.5 330.3 L1193.0 335.8 L1194.5 341.3 L1196.0 346.9 L1197.5 352.5 L1199.0 358.3 L1200.5 364.1 L1202.0 370.0 L1203.5 376.0 L1205.0 382.0 L1206.5 388.1 L1208.0 394.3 L1209.5 400.5 L1211.0 406.8 L1212.5 413.1 L1214.0 419.5 L1215.5 426.0 L1217.0 432.4 L1218.5 438.9 L1220.0 445.5 L1221.5 452.0 L1223.0 458.6 L1224.5 465.2 L1226.0 471.9 L1227.5 478.5 L1229.0 485.2 L1230.5 491.8 L1232.0 498.5 L1233.5 505.1 L1235.0 511.8 L1236.5 518.4 L1238.0 525.0 L1239.5 531.6 L1241.0 538.2 L1242.5 544.8 L1244.0 551.3 L1245.5 557.8 L1247.0 564.2 L1248.5 570.6 L1250.0 577.0 L1251.5 583.3 L1253.0 589.5 L1254.5 595.7 L1256.0 601.9 L1257.5 608.0 L1259.0 614.0 L1260.5 619.9 L1262.0 625.8 L1263.5 631.6 L1265.0 637.3 L1266.5 643.0 L1268.0 648.6 L1269.5 654.2 L1271.0 659.7 L1272.5 665.1 L1274.0 670.5 L1275.5 675.8 L1277.0 681.0 L1278.5 686.2 L1280.0 691.3 L1281.5 696.3 L1283.0 701.3 L1284.5 706.2 L1286.0 711.0 L1287.5 715.8 L1289.0 720.5 L1290.5 725.1 L1292.0 729.7 L1293.5 734.2 L1295.0 738.6 L1296.5 743.1 L1298.0 747.4 L1299.5 751.7 L1301.0 755.9 L1302.5 760.0 L1304.0 764.0 L1305.5 767.9 L1307.0 771.8 L1308.5 775.7 L1310.0 779.5 L1311.5 783.2 L1313.0 786.8 L1314.5 790.5 L1316.0 794.0 L1317.5 797.5 L1319.0 800.9 L1320.5 804.2 L1322.0 807.5 L1323.5 810.7 L1325.0 813.9 L1326.5 816.9 L1328.0 819.9 L1329.5 822.8 L1331.0 825.7 L1332.5 828.6 L1334.0 831.4 L1335.5 834.1 L1337.0 836.8 L1338.5 839.4 L1340.0 841.9 L1341.5 844.4 L1343.0 846.8 L1344.5 849.1 L1346.0 851.4 L1347.5 853.7 L1349.0 855.9 L1350.5 858.1 L1352.0 860.2 L1353.5 862.3 L1355.0 864.3 L1356.5 866.2 L1358.0 868.2 L1359.5 870.1 L1361.0 871.9 L1362.5 873.7 L1364.0 875.4 L1365.5 877.1 L1367.0 878.8 L1368.5 880.4 L1370.0 882.0 L1371.5 883.6 L1373.0 885.1 L1374.5 886.6 L1376.0 888.0 L1377.5 889.4 L1379.0 890.8 L1380.5 892.1 L1382.0 893.4 L1383.5 894.6 L1385.0 895.8 L1386.5 897.0 L1388.0 898.1 L1389.5 899.1 L1391.0 900.2 L1392.5 901.2 L1394.0 902.1 L1395.5 903.0 L1397.0 903.9 L1398.5 904.8 L1400.0 905.7 L1401.5 906.6 L1403.0 907.5 L1404.5 908.3 L1406.0 909.1 L1407.5 909.9 L1409.0 910.7 L1410.5 911.4 L1412.0 912.1 L1413.5 912.8 L1415.0 913.4 L1416.5 914.0 L1418.0 914.6 L1419.5 915.1 L1421.0 915.6 L1422.5 916.1 L1424.0 916.6 L1425.5 917.1 L1427.0 917.6 L1428.5 918.1 L1430.0 918.6 L1431.5 919.1 L1433.0 919.5 L1434.5 920.0 L1436.0 920.4 L1437.5 920.8 L1439.0 921.2 L1440.5 921.6 L1442.0 922.0 L1443.5 922.4 L1445.0 922.7 L1446.5 923.0 L1448.0 923.4 L1449.5 923.7 L1451.0 924.0 L1452.5 924.4 L1454.0 924.7 L1455.5 925.0 L1457.0 925.3 L1458.5 925.5 L1460.0 925.8 L1461.5 926.1 L1463.0 926.4 L1464.5 926.6 L1466.0 926.9 L1467.5 927.1 L1469.0 927.3 L1470.5 927.6 L1472.0 927.8 L1473.5 928.0 L1475.0 928.3 L1476.5 928.5 L1478.0 928.7 L1479.5 928.9 L1481.0 929.1 L1482.5 929.3 L1484.0 929.5 L1485.5 929.7 L1487.0 929.9 L1488.5 930.0 L1490.0 930.2 L1491.5 930.3 L1493.0 930.5 L1494.5 930.6 L1496.0 930.7 L1497.5 930.9 L1499.0 931.0 L1500.5 931.1 L1502.0 931.2 L1503.5 931.2 L1505.0 931.3 L1506.5 931.4 L1508.0 931.4 L1509.5 931.5 L1511.0 931.5 L1512.5 931.6 L1514.0 931.6 L1515.5 931.7 L1517.0 931.7 L1518.5 931.8 L1520.0 931.8 L1521.5 931.9 L1523.0 931.9 L1524.5 932.0 L1526.0 932.0 L1527.5 932.1 L1529.0 932.1 L1530.5 932.1 L1532.0 932.2 L1533.5 932.2 L1535.0 932.2 L1536.5 932.3 L1538.0 932.3 L1539.5 932.3 L1541.0 932.4 L1542.5 932.4 L1544.0 932.4 L1545.5 932.5 L1547.0 932.5 L1548.5 932.5 L1550.0 932.5 L1551.5 932.6 L1553.0 932.6 L1554.5 932.6 L1556.0 932.6 L1557.5 932.7 L1559.0 932.7 L1560.5 932.7 L1562.0 932.7 L1563.5 932.7 L1565.0 932.7 L1566.5 932.8 L1568.0 932.8 L1569.5 932.8 L1571.0 932.8 L1572.5 932.8 L1574.0 932.8 L1575.5 932.8 L1577.0 932.8 L1578.5 932.8 L1580.0 932.9 L1581.5 932.9 L1583.0 932.9 L1584.5 932.9 L1586.0 932.9 L1587.5 932.9 L1589.0 932.9 L1590.5 932.9 L1592.0 932.9 L1593.5 932.9 L1595.0 932.9 L1596.5 932.9 L1598.0 932.9 L1599.5 932.9 L1601.0 932.9 L1602.5 932.9 L1604.0 932.9 L1605.5 932.9 L1607.0 933.0 L1608.5 933.0 L1610.0 933.0 L1611.5 933.0 L1613.0 933.0 L1614.5 933.0 L1616.0 933.0 L1617.5 933.0 L1619.0 933.0 L1620.5 933.0 L1622.0 933.0 L1623.5 933.0 L1625.0 933.0 L1626.5 933.0 L1628.0 933.0 L1629.5 933.0 L1631.0 933.0 L1632.5 933.0 L1634.0 933.0 L1635.5 933.0 L1637.0 933.1 L1638.5 933.1 L1640.0 933.1 L1641.5 933.1 L1643.0 933.1 L1644.5 933.1 L1646.0 933.1 L1647.5 933.1 L1649.0 933.1 L1650.5 933.1 L1652.0 933.1 L1653.5 933.1 L1655.0 933.1 L1656.5 933.1 L1658.0 933.1 L1659.5 933.1 L1661.0 933.1 L1662.5 933.1 L1664.0 933.1 L1665.5 933.1 L1667.0 933.2 L1668.5 933.2 L1670.0 933.2 L1671.5 933.2 L1673.0 933.2 L1674.5 933.2 L1676.0 933.2 L1677.5 933.2 L1679.0 933.2 L1680.5 933.2 L1682.0 933.2 L1683.5 933.2 L1685.0 933.2 L1686.5 933.2 L1688.0 933.2 L1689.5 933.2 L1691.0 933.2 L1692.5 933.2 L1694.0 933.2 L1695.5 933.2 L1697.0 933.2 L1698.5 933.3 L1700.0 933.3 L1701.5 933.3 L1703.0 933.3 L1704.5 933.3 L1706.0 933.3 L1707.5 933.3 L1709.0 933.3 L1710.5 933.3 L1712.0 933.3 L1713.5 933.3 L1715.0 933.3 L1716.5 933.3 L1718.0 933.3 L1719.5 933.3 L1721.0 933.3 L1722.5 933.3 L1724.0 933.3 L1725.5 933.3 L1727.0 933.3 L1728.5 933.4 L1730.0 933.4 L1731.5 933.4 L1733.0 933.4 L1734.5 933.4 L1736.0 933.4 L1737.5 933.4 L1739.0 933.4 L1740.5 933.4 L1742.0 933.4 L1743.5 933.4 L1745.0 933.4 L1746.5 933.4 L1748.0 933.4 L1749.5 933.4 L1751.0 933.4 L1752.5 933.4 L1754.0 933.4 L1755.5 933.4 L1757.0 933.5 L1758.5 933.5 L1760.0 933.5 L1761.5 933.5 L1763.0 933.5 L1764.5 933.5 L1766.0 933.5 L1767.5 933.5 L1769.0 933.5 L1770.5 933.5 L1772.0 933.5 L1773.5 933.5 L1775.0 933.5 L1776.5 933.5 L1778.0 933.5 L1779.5 933.5 L1781.0 933.5 L1782.5 933.5 L1784.0 933.6 L1785.5 933.6 L1787.0 933.6 L1788.5 933.6 L1790.0 933.6 L1791.5 933.6 L1793.0 933.6 L1794.5 933.6 L1796.0 933.6 L1797.5 933.6 L1799.0 933.6 L1800.5 933.6 L1802.0 933.6 L1803.5 933.6 L1805.0 933.6 L1806.5 933.6 L1808.0 933.7 L1809.5 933.7 L1811.0 933.7 L1812.5 933.7 L1814.0 933.7 L1815.5 933.7 L1817.0 933.7 L1818.5 933.7 L1820.0 933.7 L1821.5 933.7 L1823.0 933.7 L1824.5 933.7 L1826.0 933.7 L1827.5 933.7 L1829.0 933.7 L1830.5 933.7 L1832.0 933.7 L1833.5 933.8 L1835.0 933.8 L1836.5 933.8 L1838.0 933.8 L1839.5 933.8 L1841.0 933.8 L1842.5 933.8 L1844.0 933.8 L1845.5 933.8 L1847.0 933.8 L1848.5 933.8 L1850.0 933.8 L1851.5 933.8 L1853.0 933.8 L1854.5 933.8 L1856.0 933.9 L1857.5 933.9 L1859.0 933.9 L1860.5 933.9 L1862.0 933.9 L1863.5 933.9 L1865.0 933.9 L1866.5 933.9 L1868.0 933.9 L1869.5 933.9 L1871.0 933.9 L1872.5 933.9 L1874.0 933.9 L1875.5 933.9 L1877.0 933.9 L1878.5 933.9 L1880.0 934.0 L1881.5 934.0 L1883.0 934.0 L1884.5 934.0 L1886.0 934.0 L1887.5 934.0 L1889.0 934.0 L1890.5 934.0 L1892.0 934.0 L1893.5 934.0 L1895.0 934.0 L1896.5 934.0 L1898.0 934.0 L1899.5 934.0 L1901.0 934.0 L1902.5 934.1 L1904.0 934.1 L1905.5 934.1 L1907.0 934.1 L1908.5 934.1 L1910.0 934.1 L1911.5 934.1 L1913.0 934.1 L1914.5 934.1 L1916.0 934.1 L1917.5 934.1 L1919.0 934.1 L1920.5 934.1 L1922.0 934.1 L1923.5 934.1 L1925.0 934.1 L1926.5 934.2 L1928.0 934.2 L1929.5 934.2 L1931.0 934.2 L1932.5 934.2 L1934.0 934.2 L1935.5 934.2 L1937.0 934.2 L1938.5 934.2 L1940.0 934.2 L1941.5 934.2 L1943.0 934.2 L1944.5 934.2 L1946.0 934.2 L1947.5 934.2 L1949.0 934.3 L1950.5 934.3 L1952.0 934.3 L1953.5 934.3 L1955.0 934.3 L1956.5 934.3 L1958.0 934.3 L1959.5 934.3 L1961.0 934.3 L1962.5 934.3 L1964.0 934.3 L1965.5 934.3 L1967.0 934.3 L1968.5 934.3 L1970.0 934.3 L1971.5 934.3 L1973.0 934.4 L1974.5 934.4 L1976.0 934.4 L1977.5 934.4 L1979.0 934.4 L1980.5 934.4 L1982.0 934.4 L1983.5 934.4 L1985.0 934.4 L1986.5 934.4 L1988.0 934.4 L1989.5 934.4 L1991.0 934.4 L1992.5 934.4 L1994.0 934.4 L1995.5 934.5 L1997.0 934.5 L1998.5 934.5 L2000.0 934.5 L2001.5 934.5 L2003.0 934.5 L2004.5 934.5 L2006.0 934.5 L2007.5 934.5 L2009.0 934.5 L2010.5 934.5 L2012.0 934.5 L2013.5 934.5 L2015.0 934.5 L2016.5 934.5 L2018.0 934.5 L2019.5 934.5 L2021.0 934.5 L2022.5 934.5 L2024.0 934.5 L2025.5 934.5 L2027.0 934.5 L2028.5 934.5 L2030.0 934.4 L2031.5 934.4 L2033.0 934.4 L2034.5 934.4 L2036.0 934.4 L2037.5 934.4 L2039.0 934.4 L2040.5 934.4 L2042.0 934.4 L2043.5 934.4 L2045.0 934.4 L2046.5 934.4 L2048.0 934.4 L2049.5 934.4 L2051.0 934.4 L2052.5 934.4 L2054.0 934.4 L2055.5 934.3 L2057.0 934.3 L2058.5 934.3 L2060.0 934.3 L2061.5 934.3 L2063.0 934.4 L2064.5 934.4 L2066.0 934.4 L2067.5 934.5 L2069.0 934.5 L2070.5 934.6 L2072.0 934.7 L2073.5 934.7 L2075.0 934.8 L2076.5 934.9 L2078.0 935.0 L2079.5 935.1 L2081.0 935.2 L2082.5 935.3 L2084.0 935.6 L2085.5 936.1 L2087.0 936.7 L2088.5 937.4 L2090.0 938.3 L2091.5 939.2 L2093.0 940.3 L2094.5 941.4 L2096.0 942.7 L2097.0 944.0" stroke="#fca680"/>
<path d="M260.0 907.5 L261.5 907.5 L263.0 907.6 L264.5 907.6 L266.0 907.7 L267.5 907.7 L269.0 907.8 L270.5 907.8 L272.0 907.8 L273.5 907.9 L275.0 907.9 L276.5 907.9 L278.0 908.0 L279.5 908.0 L281.0 908.0 L282.5 908.1 L284.0 908.1 L285.5 908.1 L287.0 908.2 L288.5 908.2 L290.0 908.2 L291.5 908.3 L293.0 908.3 L294.5 908.3 L296.0 908.3 L297.5 908.4 L299.0 908.4 L300.5 908.4 L302.0 908.5 L303.5 908.5 L305.0 908.5 L306.5 908.5 L308.0 908.5 L309.5 908.6 L311.0 908.6 L312.5 908.6 L314.0 908.6 L315.5 908.7 L317.0 908.7 L318.5 908.7 L320.0 908.7 L321.5 908.7 L323.0 908.8 L324.5 908.8 L326.0 908.8 L327.5 908.8 L329.0 908.8 L330.5 908.9 L332.0 908.9 L333.5 908.9 L335.0 908.9 L336.5 908.9 L338.0 908.9 L339.5 909.0 L341.0 909.0 L342.5 909.0 L344.0 909.0 L345.5 909.0 L347.0 909.0 L348.5 909.0 L350.0 909.0 L351.5 909.0 L353.0 909.0 L354.5 909.0 L356.0 909.0 L357.5 909.0 L359.0 909.0 L360.5 909.0 L362.0 908.9 L363.5 908.9 L365.0 908.9 L366.5 908.9 L368.0 908.9 L369.5 908.9 L371.0 908.9 L372.5 908.9 L374.0 908.9 L375.5 908.8 L377.0 908.8 L378.5 908.8 L380.0 908.8 L381.5 908.8 L383.0 908.7 L384.5 908.7 L386.0 908.7 L387.5 908.6 L389.0 908.6 L390.5 908.5 L392.0 908.5 L393.5 908.4 L395.0 908.4 L396.5 908.3 L398.0 908.2 L399.5 908.1 L401.0 908.1 L402.5 908.0 L404.0 907.9 L405.5 907.8 L407.0 907.7 L408.5 907.6 L410.0 907.5 L411.5 907.4 L413.0 907.3 L414.5 907.2 L416.0 907.1 L417.5 907.0 L419.0 906.9 L420.5 906.8 L422.0 906.6 L423.5 906.5 L425.0 906.3 L426.5 906.2 L428.0 906.0 L429.5 905.8 L431.0 905.6 L432.5 905.4 L434.0 905.2 L435.5 904.9 L437.0 904.7 L438.5 904.4 L440.0 904.2 L441.5 903.9 L443.0 903.7 L444.5 903.4 L446.0 903.1 L447.5 902.8 L449.0 902.5 L450.5 902.2 L452.0 901.9 L453.5 901.6 L455.0 901.2 L456.5 900.9 L458.0 900.5 L459.5 900.1 L461.0 899.7 L462.5 899.3 L464.0 898.9 L465.5 898.5 L467.0 898.1 L468.5 897.7 L470.0 897.2 L471.5 896.8 L473.0 896.3 L474.5 895.8 L476.0 895.4 L477.5 894.9 L479.0 894.4 L480.5 893.9 L482.0 893.4 L483.5 892.8 L485.0 892.3 L486.5 891.7 L488.0 891.1 L489.5 890.5 L491.0 889.9 L492.5 889.3 L494.0 888.6 L495.5 887.9 L497.0 887.3 L498.5 886.6 L500.0 885.9 L501.5 885.1 L503.0 884.4 L504.5 883.7 L506.0 882.9 L507.5 882.1 L509.0 881.4 L510.5 880.6 L512.0 879.7 L513.5 878.9 L515.0 878.1 L516.5 877.2 L518.0 876.3 L519.5 875.4 L521.0 874.5 L522.5 873.6 L524.0 872.6 L525.5 871.7 L527.0 870.7 L528.5 869.7 L530.0 868.6 L531.5 867.6 L533.0 866.5 L534.5 865.4 L536.0 864.3 L537.5 863.2 L539.0 862.1 L540.5 861.0 L542.0 859.8 L543.5 858.6 L545.0 857.4 L546.5 856.2 L548.0 855.0 L549.5 853.8 L551.0 852.5 L552.5 851.2 L554.0 850.0 L555.5 848.7 L557.0 847.4 L558.5 846.0 L560.0 844.7 L561.5 843.3 L563.0 842.0 L564.5 840.6 L566.0 839.2 L567.5 837.7 L569.0 836.3 L570.5 834.8 L572.0 833.3 L573.5 831.8 L575.0 830.3 L576.5 828.8 L578.0 827.2 L579.5 825.6 L581.0 824.0 L582.5 822.4 L584.0 820.8 L585.5 819.1 L587.0 817.5 L588.5 815.8 L590.0 814.1 L591.5 812.4 L593.0 810.6 L594.5 808.9 L596.0 807.1 L597.5 805.3 L599.0 803.4 L600.5 801.5 L602.0 799.6 L603.5 797.7 L605.0 795.7 L606.5 793.7 L608.0 791.7 L609.5 789.7 L611.0 787.6 L612.5 785.5 L614.0 783.4 L615.5 781.2 L617.0 779.0 L618.5 776.9 L620.0 774.7 L621.5 772.5 L623.0 770.3 L624.5 768.2 L626.0 766.0 L627.5 763.8 L629.0 761.6 L630.5 759.5 L632.0 757.3 L633.5 755.2 L635.0 753.0 L636.5 750.9 L638.0 748.7 L639.5 746.6 L641.0 744.4 L642.5 742.3 L644.0 740.1 L645.5 738.0 L647.0 735.8 L648.5 733.7 L650.0 731.6 L651.5 729.4 L653.0 727.3 L654.5 725.2 L656.0 723.0 L657.5 720.9 L659.0 718.8 L660.5 716.8 L662.0 714.7 L663.5 712.6 L665.0 710.6 L666.5 708.6 L668.0 706.6 L669.5 704.6 L671.0 702.6 L672.5 700.6 L674.0 698.6 L675.5 696.7 L677.0 694.7 L678.5 692.8 L680.0 690.8 L681.5 688.9 L683.0 687.0 L684.5 685.1 L686.0 683.2 L687.5 681.3 L689.0 679.4 L690.5 677.6 L692.0 675.7 L693.5 673.9 L695.0 672.1 L696.5 670.3 L698.0 668.5 L699.5 666.8 L701.0 665.0 L702.5 663.3 L704.0 661.6 L705.5 659.9 L707.0 658.3 L708.5 656.6 L710.0 655.0 L711.5 653.4 L713.0 651.8 L714.5 650.2 L716.0 648.6 L717.5 647.0 L719.0 645.4 L720.5 643.8 L722.0 642.2 L723.5 640.7 L725.0 639.1 L726.5 637.6 L728.0 636.0 L729.5 634.5 L731.0 632.9 L732.5 631.4 L734.0 629.9 L735.5 628.4 L737.0 626.9 L738.5 625.4 L740.0 623.9 L741.5 622.3 L743.0 620.8 L744.5 619.3 L746.0 617.8 L747.5 616.3 L749.0 614.8 L750.5 613.3 L752.0 611.7 L753.5 610.2 L755.0 608.7 L756.5 607.1 L758.0 605.6 L759.5 604.0 L761.0 602.4 L762.5 600.8 L764.0 599.1 L765.5 597.5 L767.0 595.8 L768.5 594.1 L770.0 592.4 L771.5 590.7 L773.0 589.0 L774.5 587.3 L776.0 585.5 L777.5 583.8 L779.0 582.0 L780.5 580.2 L782.0 578.5 L783.5 576.7 L785.0 574.9 L786.5 573.0 L788.0 571.2 L789.5 569.3 L791.0 567.3 L792.5 565.3 L794.0 563.3 L795.5 561.2 L797.0 559.1 L798.5 557.0 L800.0 554.9 L801.5 552.7 L803.0 550.5 L804.5 548.2 L806.0 546.0 L807.5 543.7 L809.0 541.3 L810.5 539.0 L812.0 536.6 L813.5 534.2 L815.0 531.7 L816.5 529.2 L818.0 526.7 L819.5 524.1 L821.0 521.5 L822.5 518.8 L824.0 516.1 L825.5 513.4 L827.0 510.6 L828.5 507.8 L830.0 504.9 L831.5 502.0 L833.0 499.1 L834.5 496.1 L836.0 493.1 L837.5 490.0 L839.0 486.8 L840.5 483.6 L842.0 480.4 L843.5 477.1 L845.0 473.8 L846.5 470.5 L848.0 467.1 L849.5 463.7 L851.0 460.2 L852.5 456.7 L854.0 453.2 L855.5 449.7 L857.0 446.1 L858.5 442.5 L860.0 439.0 L861.5 435.4 L863.0 431.8 L864.5 428.1 L866.0 424.5 L867.5 420.7 L869.0 417.0 L870.5 415.6 L872.0 416.2 L873.5 417.0 L875.0 416.6 L876.5 413.6 L878.0 410.2 L879.5 406.4 L881.0 402.6 L882.5 399.5 L884.0 396.6 L885.5 393.7 L887.0 390.8 L888.5 387.9 L890.0 385.0 L891.5 382.1 L893.0 379.2 L894.5 376.3 L896.0 373.4 L897.5 370.5 L899.0 367.6 L900.5 364.7 L902.0 361.8 L903.5 358.9 L905.0 355.9 L906.5 353.0 L908.0 350.0 L909.5 347.0 L911.0 344.0 L912.5 340.9 L914.0 337.9 L915.5 334.8 L917.0 331.7 L918.5 328.6 L920.0 325.4 L921.5 322.2 L923.0 319.0 L924.5 315.8 L926.0 312.5 L927.5 309.2 L929.0 305.9 L930.5 302.6 L932.0 299.3 L933.5 295.9 L935.0 292.6 L936.5 289.2 L938.0 285.9 L939.5 282.5 L941.0 279.2 L942.5 275.8 L944.0 272.5 L945.5 269.2 L947.0 265.9 L948.5 262.6 L950.0 259.4 L951.5 256.2 L953.0 253.0 L954.5 249.8 L956.0 246.7 L957.5 243.6 L959.0 240.7 L960.5 237.8 L962.0 235.0 L963.5 232.3 L965.0 229.6 L966.5 227.1 L968.0 224.6 L969.5 222.2 L971.0 219.8 L972.5 217.4 L974.0 215.3 L975.5 213.4 L977.0 211.5 L978.5 209.9 L980.0 208.3 L981.5 206.8 L983.0 205.4 L984.5 204.2 L986.0 203.0 L987.5 202.0 L989.0 201.3 L990.5 200.7 L992.0 200.3 L993.5 200.1 L995.0 200.0 L996.5 199.9 L998.0 200.1 L999.5 200.4 L1001.0 200.9 L1002.5 201.6 L1004.0 202.4 L1005.5 203.4 L1007.0 204.5 L1008.5 205.8 L1010.0 207.2 L1011.5 208.8 L1013.0 210.5 L1014.5 212.4 L1016.0 214.5 L1017.5 216.9 L1019.0 219.4 L1020.5 222.1 L1022.0 224.9 L1023.5 227.8 L1025.0 230.9 L1026.5 234.1 L1028.0 237.4 L1029.5 240.9 L1031.0 244.6 L1032.5 248.5 L1034.0 252.8 L1035.5 257.1 L1037.0 261.5 L1038.5 266.0 L1040.0 270.6 L1041.5 275.5 L1043.0 280.7 L1044.5 286.0 L1046.0 291.4 L1047.5 296.9 L1049.0 302.6 L1050.5 308.5 L1052.0 314.5 L1053.5 320.6 L1055.0 326.9 L1056.5 333.2 L1058.0 339.7 L1059.5 346.3 L1061.0 353.0 L1062.5 359.8 L1064.0 366.7 L1065.5 373.6 L1067.0 380.7 L1068.5 387.8 L1070.0 395.0 L1071.5 402.2 L1073.0 409.5 L1074.5 416.8 L1076.0 424.2 L1077.5 431.6 L1079.0 439.0 L1080.5 446.5 L1082.0 454.0 L1083.5 461.5 L1085.0 469.0 L1086.5 476.5 L1088.0 484.0 L1089.5 491.5 L1091.0 499.1 L1092.5 506.6 L1094.0 514.1 L1095.5 521.6 L1097.0 529.0 L1098.5 536.5 L1100.0 543.9 L1101.5 551.3 L1103.0 558.6 L1104.5 565.9 L1106.0 573.2 L1107.5 580.4 L1109.0 587.5 L1110.5 594.6 L1112.0 601.6 L1113.5 608.6 L1115.0 615.4 L1116.5 622.2 L1118.0 629.0 L1119.5 635.6 L1121.0 642.1 L1122.5 648.6 L1124.0 655.0 L1125.5 661.4 L1127.0 667.6 L1128.5 673.7 L1130.0 679.8 L1131.5 685.8 L1133.0 691.6 L1134.5 697.5 L1136.0 703.2 L1137.5 708.8 L1139.0 714.3 L1140.5 719.8 L1142.0 725.1 L1143.5 730.4 L1145.0 735.6 L1146.5 740.7 L1148.0 745.7 L1149.5 750.7 L1151.0 755.5 L1152.5 760.2 L1154.0 764.9 L1155.5 769.4 L1157.0 773.9 L1158.5 778.3 L1160.0 782.5 L1161.5 786.7 L1163.0 790.8 L1164.5 794.8 L1166.0 798.7 L1167.5 802.5 L1169.0 806.2 L1170.5 809.8 L1172.0 813.3 L1173.5 816.8 L1175.0 820.1 L1176.5 823.4 L1178.0 826.6 L1179.5 829.6 L1181.0 832.6 L1182.5 835.5 L1184.0 838.4 L1185.5 841.1 L1187.0 843.8 L1188.5 846.5 L1190.0 849.0 L1191.5 851.5 L1193.0 853.9 L1194.5 856.3 L1196.0 858.6 L1197.5 860.8 L1199.0 862.9 L1200.5 865.0 L1202.0 867.1 L1203.5 869.1 L1205.0 871.0 L1206.5 872.9 L1208.0 874.7 L1209.5 876.4 L1211.0 878.1 L1212.5 879.7 L1214.0 881.3 L1215.5 882.8 L1217.0 884.4 L1218.5 885.9 L1220.0 887.3 L1221.5 888.8 L1223.0 890.2 L1224.5 891.6 L1226.0 892.9 L1227.5 894.3 L1229.0 895.5 L1230.5 896.7 L1232.0 897.9 L1233.5 899.0 L1235.0 900.1 L1236.5 901.2 L1238.0 902.3 L1239.5 903.4 L1241.0 904.4 L1242.5 905.4 L1244.0 906.4 L1245.5 907.4 L1247.0 908.4 L1248.5 909.4 L1250.0 910.3 L1251.5 911.2 L1253.0 912.1 L1254.5 913.0 L1256.0 913.8 L1257.5 914.7 L1259.0 915.4 L1260.5 916.2 L1262.0 917.0 L1263.5 917.7 L1265.0 918.4 L1266.5 919.1 L1268.0 919.7 L1269.5 920.4 L1271.0 921.0 L1272.5 921.6 L1274.0 922.1 L1275.5 922.7 L1277.0 923.2 L1278.5 923.7 L1280.0 924.2 L1281.5 924.7 L1283.0 925.1 L1284.5 925.6 L1286.0 926.0 L1287.5 926.4 L1289.0 926.8 L1290.5 927.2 L1292.0 927.6 L1293.5 928.0 L1295.0 928.4 L1296.5 928.7 L1298.0 929.1 L1299.5 929.4 L1301.0 929.7 L1302.5 929.9 L1304.0 930.2 L1305.5 930.5 L1307.0 930.7 L1308.5 930.9 L1310.0 931.1 L1311.5 931.3 L1313.0 931.5 L1314.5 931.7 L1316.0 931.9 L1317.5 932.1 L1319.0 932.3 L1320.5 932.5 L1322.0 932.6 L1323.5 932.7 L1325.0 932.9 L1326.5 933.0 L1328.0 933.1 L1329.5 933.1 L1331.0 933.2 L1332.5 933.2 L1334.0 933.3 L1335.5 933.3 L1337.0 933.3 L1338.5 933.4 L1340.0 933.4 L1341.5 933.4 L1343.0 933.4 L1344.5 933.4 L1346.0 933.4 L1347.5 933.5 L1349.0 933.5 L1350.5 933.5 L1352.0 933.5 L1353.5 933.5 L1355.0 933.5 L1356.5 933.5 L1358.0 933.5 L1359.5 933.6 L1361.0 933.6 L1362.5 933.6 L1364.0 933.6 L1365.5 933.7 L1367.0 933.7 L1368.5 933.8 L1370.0 933.8 L1371.5 933.9 L1373.0 933.9 L1374.5 934.0 L1376.0 934.1 L1377.5 934.2 L1379.0 934.2 L1380.5 934.3 L1382.0 934.4 L1383.5 934.5 L1385.0 934.6 L1386.5 934.7 L1388.0 934.7 L1389.5 934.8 L1391.0 934.9 L1392.5 935.0 L1394.0 935.1 L1395.5 935.2 L1397.0 935.3 L1398.5 935.4 L1400.0 935.5 L1401.5 935.6 L1403.0 935.7 L1404.5 935.7 L1406.0 935.8 L1407.5 935.9 L1409.0 936.0 L1410.5 936.1 L1412.0 936.1 L1413.5 936.2 L1415.0 936.3 L1416.5 936.3 L1418.0 936.4 L1419.5 936.4 L1421.0 936.5 L1422.5 936.5 L1424.0 936.6 L1425.5 936.6 L1427.0 936.6 L1428.5 936.6 L1430.0 936.6 L1431.5 936.7 L1433.0 936.7 L1434.5 936.7 L1436.0 936.7 L1437.5 936.7 L1439.0 936.7 L1440.5 936.7 L1442.0 936.7 L1443.5 936.7 L1445.0 936.7 L1446.5 936.6 L1448.0 936.6 L1449.5 936.6 L1451.0 936.6 L1452.5 936.6 L1454.0 936.6 L1455.5 936.6 L1457.0 936.6 L1458.5 936.6 L1460.0 936.6 L1461.5 936.6 L1463.0 936.6 L1464.5 936.6 L1466.0 936.6 L1467.5 936.6 L1469.0 936.6 L1470.5 936.5 L1472.0 936.5 L1473.5 936.5 L1475.0 936.5 L1476.5 936.5 L1478.0 936.5 L1479.5 936.5 L1481.0 936.5 L1482.5 936.5 L1484.0 936.5 L1485.5 936.5 L1487.0 936.5 L1488.5 936.4 L1490.0 936.4 L1491.5 936.4 L1493.0 936.4 L1494.5 936.4 L1496.0 936.4 L1497.5 936.4 L1499.0 936.4 L1500.5 936.4 L1502.0 936.4 L1503.5 936.4 L1505.0 936.4 L1506.5 936.4 L1508.0 936.4 L1509.5 936.4 L1511.0 936.4 L1512.5 936.4 L1514.0 936.4 L1515.5 936.4 L1517.0 936.4 L1518.5 936.4 L1520.0 936.4 L1521.5 936.4 L1523.0 936.4 L1524.5 936.4 L1526.0 936.4 L1527.5 936.4 L1529.0 936.4 L1530.5 936.4 L1532.0 936.3 L1533.5 936.3 L1535.0 936.3 L1536.5 936.3 L1538.0 936.4 L1539.5 936.4 L1541.0 936.4 L1542.5 936.4 L1544.0 936.4 L1545.5 936.4 L1547.0 936.4 L1548.5 936.4 L1550.0 936.4 L1551.5 936.4 L1553.0 936.4 L1554.5 936.4 L1556.0 936.4 L1557.5 936.4 L1559.0 936.4 L1560.5 936.4 L1562.0 936.4 L1563.5 936.4 L1565.0 936.4 L1566.5 936.4 L1568.0 936.4 L1569.5 936.4 L1571.0 936.4 L1572.5 936.4 L1574.0 936.4 L1575.5 936.4 L1577.0 936.4 L1578.5 936.4 L1580.0 936.4 L1581.5 936.4 L1583.0 936.4 L1584.5 936.4 L1586.0 936.5 L1587.5 937.1 L1589.0 937.9 L1590.5 938.7 L1592.0 939.3 L1593.5 939.4 L1595.0 938.4 L1596.5 936.8 L1598.0 935.1 L1599.5 934.1 L1601.0 934.1 L1602.5 934.4 L1604.0 934.7 L1605.5 935.1 L1607.0 935.6 L1608.5 935.9 L1610.0 936.2 L1611.5 936.4 L1613.0 936.4 L1614.5 936.4 L1616.0 936.4 L1617.5 936.4 L1619.0 936.4 L1620.5 936.4 L1622.0 936.4 L1623.5 936.4 L1625.0 936.4 L1626.5 936.4 L1628.0 936.4 L1629.5 936.4 L1631.0 936.4 L1632.5 936.4 L1634.0 936.4 L1635.5 936.4 L1637.0 936.4 L1638.5 936.4 L1640.0 936.4 L1641.5 936.4 L1643.0 936.4 L1644.5 936.4 L1646.0 936.4 L1647.5 936.4 L1649.0 936.4 L1650.5 936.4 L1652.0 936.4 L1653.5 936.4 L1655.0 936.4 L1656.5 936.4 L1658.0 936.4 L1659.5 936.4 L1661.0 936.4 L1662.5 936.4 L1664.0 936.4 L1665.5 936.4 L1667.0 936.4 L1668.5 936.4 L1670.0 936.4 L1671.5 936.4 L1673.0 936.4 L1674.5 936.4 L1676.0 936.4 L1677.5 936.4 L1679.0 936.4 L1680.5 936.4 L1682.0 936.4 L1683.5 936.4 L1685.0 936.4 L1686.5 936.4 L1688.0 936.4 L1689.5 936.4 L1691.0 936.4 L1692.5 936.4 L1694.0 936.4 L1695.5 936.4 L1697.0 936.4 L1698.5 936.4 L1700.0 936.4 L1701.5 936.4 L1703.0 936.4 L1704.5 936.4 L1706.0 936.4 L1707.5 936.4 L1709.0 936.4 L1710.5 936.4 L1712.0 936.4 L1713.5 936.4 L1715.0 936.4 L1716.5 936.4 L1718.0 936.4 L1719.5 936.4 L1721.0 936.4 L1722.5 936.4 L1724.0 936.4 L1725.5 936.4 L1727.0 936.4 L1728.5 936.4 L1730.0 936.4 L1731.5 936.4 L1733.0 936.4 L1734.5 936.4 L1736.0 936.4 L1737.5 936.4 L1739.0 936.4 L1740.5 936.4 L1742.0 936.4 L1743.5 936.4 L1745.0 936.4 L1746.5 936.4 L1748.0 936.4 L1749.5 936.4 L1751.0 936.4 L1752.5 936.4 L1754.0 936.4 L1755.5 936.4 L1757.0 936.4 L1758.5 936.4 L1760.0 936.4 L1761.5 936.4 L1763.0 936.4 L1764.5 936.4 L1766.0 936.4 L1767.5 936.4 L1769.0 936.4 L1770.5 936.4 L1772.0 936.4 L1773.5 936.4 L1775.0 936.4 L1776.5 936.4 L1778.0 936.4 L1779.5 936.4 L1781.0 936.4 L1782.5 936.4 L1784.0 936.4 L1785.5 936.4 L1787.0 936.4 L1788.5 936.4 L1790.0 936.4 L1791.5 936.4 L1793.0 936.4 L1794.5 936.4 L1796.0 936.4 L1797.5 936.4 L1799.0 936.4 L1800.5 936.4 L1802.0 936.4 L1803.5 936.4 L1805.0 936.4 L1806.5 936.4 L1808.0 936.4 L1809.5 936.4 L1811.0 936.4 L1812.5 936.4 L1814.0 936.4 L1815.5 936.4 L1817.0 936.4 L1818.5 936.4 L1820.0 936.4 L1821.5 936.4 L1823.0 936.4 L1824.5 936.4 L1826.0 936.4 L1827.5 936.4 L1829.0 936.4 L1830.5 936.4 L1832.0 936.4 L1833.5 936.4 L1835.0 936.4 L1836.5 936.4 L1838.0 936.4 L1839.5 936.4 L1841.0 936.4 L1842.5 936.4 L1844.0 936.4 L1845.5 936.4 L1847.0 936.4 L1848.5 936.4 L1850.0 936.4 L1851.5 936.4 L1853.0 936.4 L1854.5 936.4 L1856.0 936.4 L1857.5 936.4 L1859.0 936.4 L1860.5 936.4 L1862.0 936.4 L1863.5 936.4 L1865.0 936.4 L1866.5 936.4 L1868.0 936.4 L1869.5 936.4 L1871.0 936.4 L1872.5 936.4 L1874.0 936.4 L1875.5 936.4 L1877.0 936.4 L1878.5 936.4 L1880.0 936.4 L1881.5 936.4 L1883.0 936.4 L1884.5 936.4 L1886.0 936.4 L1887.5 936.4 L1889.0 936.4 L1890.5 936.4 L1892.0 936.4 L1893.5 936.4 L1895.0 936.4 L1896.5 936.4 L1898.0 936.4 L1899.5 936.4 L1901.0 936.4 L1902.5 936.4 L1904.0 936.4 L1905.5 936.4 L1907.0 936.4 L1908.5 936.4 L1910.0 936.4 L1911.5 936.4 L1913.0 936.4 L1914.5 936.4 L1916.0 936.4 L1917.5 936.4 L1919.0 936.4 L1920.5 936.4 L1922.0 936.4 L1923.5 936.4 L1925.0 936.4 L1926.5 936.4 L1928.0 936.4 L1929.5 936.4 L1931.0 936.4 L1932.5 936.4 L1934.0 936.4 L1935.5 936.4 L1937.0 936.4 L1938.5 936.4 L1940.0 936.4 L1941.5 936.4 L1943.0 936.4 L1944.5 936.4 L1946.0 936.4 L1947.5 936.4 L1949.0 936.4 L1950.5 936.4 L1952.0 936.4 L1953.5 936.4 L1955.0 936.4 L1956.5 936.4 L1958.0 936.4 L1959.5 936.4 L1961.0 936.4 L1962.5 936.4 L1964.0 936.4 L1965.5 936.4 L1967.0 936.4 L1968.5 936.4 L1970.0 936.4 L1971.5 936.4 L1973.0 936.4 L1974.5 936.4 L1976.0 936.4 L1977.5 936.4 L1979.0 936.4 L1980.5 936.4 L1982.0 936.4 L1983.5 936.4 L1985.0 936.4 L1986.5 936.4 L1988.0 936.4 L1989.5 936.4 L1991.0 936.4 L1992.5 936.4 L1994.0 936.4 L1995.5 936.4 L1997.0 936.4 L1998.5 936.4 L2000.0 936.4 L2001.5 936.4 L2003.0 936.4 L2004.5 936.4 L2006.0 936.4 L2007.5 936.4 L2009.0 936.4 L2010.5 936.4 L2012.0 936.4 L2013.5 936.4 L2015.0 936.4 L2016.5 936.4 L2018.0 936.4 L2019.5 936.4 L2021.0 936.4 L2022.5 936.5 L2024.0 936.5 L2025.5 936.5 L2027.0 936.5 L2028.5 936.5 L2030.0 936.5 L2031.5 936.5 L2033.0 936.5 L2034.5 936.5 L2036.0 936.5 L2037.5 936.5 L2039.0 936.5 L2040.5 936.5 L2042.0 936.6 L2043.5 936.6 L2045.0 936.6 L2046.5 936.6 L2048.0 936.6 L2049.5 936.6 L2051.0 936.6 L2052.5 936.6 L2054.0 936.7 L2055.5 936.8 L2057.0 936.9 L2058.5 937.1 L2060.0 937.2 L2061.5 937.4 L2063.0 937.6 L2064.5 937.8 L2066.0 938.1 L2067.5 938.4 L2069.0 938.7 L2070.5 939.0 L2072.0 939.4 L2073.5 939.7 L2075.0 940.1 L2076.5 940.6 L2078.0 941.1 L2079.5 941.7 L2081.0 942.4 L2082.5 943.2 L2084.0 944.0 L2085.5 944.9 L2087.0 945.8 L2088.5 946.7 L2090.0 947.7 L2091.5 948.7 L2093.0 949.8 L2094.5 950.9 L2096.0 952.1 L2097.0 953.0" stroke="#000000"/>
</g>
<rect x="1624" y="81.10" width="179" height="10.8" fill="#000000"/>
<rect x="1624" y="168.50" width="179" height="10.8" fill="#ff4040"/>
<rect x="1624" y="253.00" width="179" height="10.8" fill="#fca680"/>
<rect x="1624" y="340.30" width="179" height="10.8" fill="#00f50a"/>
<rect x="1624" y="427.50" width="179" height="10.8" fill="#0a0afa"/>
<text transform="translate(0 960.11) scale(0.9723 0.9876)" font-size="72" stroke="#000" stroke-width="1.2" stroke-linejoin="miter"><tspan x="141.97">0.0</tspan></text>
<text transform="translate(0 813.06) scale(0.9712 0.9871)" font-size="72" stroke="#000" stroke-width="1.2" stroke-linejoin="miter"><tspan x="142.13">0.2</tspan></text>
<text transform="translate(0 666.01) scale(0.9467 0.9876)" font-size="72" stroke="#000" stroke-width="1.2" stroke-linejoin="miter"><tspan x="145.87">0.4</tspan></text>
<text transform="translate(0 518.96) scale(0.9690 0.9874)" font-size="72" stroke="#000" stroke-width="1.2" stroke-linejoin="miter"><tspan x="142.46">0.6</tspan></text>
<text transform="translate(0 371.91) scale(0.9651 0.9873)" font-size="72" stroke="#000" stroke-width="1.2" stroke-linejoin="miter"><tspan x="143.05">0.8</tspan></text>
<clipPath id="c_yt5"><rect x="151.00" y="175.35" width="11.20" height="49.20"/><rect x="177.00" y="144.05" width="400.00" height="111.80"/></clipPath><g clip-path="url(#c_yt5)"><text transform="translate(0 224.86) scale(0.9738 0.9876)" font-size="72" stroke="#000" stroke-width="1.2" stroke-linejoin="miter"><tspan x="139.07">1</tspan><tspan x="181.60">.0</tspan></text></g>
<clipPath id="c_yt6"><rect x="151.00" y="28.30" width="11.20" height="49.20"/><rect x="177.00" y="-3.00" width="400.00" height="111.80"/></clipPath><g clip-path="url(#c_yt6)"><text transform="translate(0 78.31) scale(0.9719 0.9968)" font-size="72" stroke="#000" stroke-width="1.2" stroke-linejoin="miter"><tspan x="139.38">1</tspan><tspan x="181.95">.2</tspan></text></g>
<text transform="translate(0 1043.22) scale(0.9704 0.9836)" font-size="72" stroke="#000" stroke-width="1.2" stroke-linejoin="miter"><tspan x="417.56">600</tspan></text>
<text transform="translate(0 1043.22) scale(0.9867 0.9835)" font-size="72" stroke="#000" stroke-width="1.2" stroke-linejoin="miter"><tspan x="824.25">800</tspan></text>
<clipPath id="c_xt1000"><rect x="1214.80" y="994.90" width="11.20" height="49.00"/><rect x="1240.00" y="962.60" width="400.00" height="111.60"/></clipPath><g clip-path="url(#c_xt1000)"><text transform="translate(0 1043.22) scale(0.9857 0.9838)" font-size="72" stroke="#000" stroke-width="1.2" stroke-linejoin="miter"><tspan x="1216.32">1</tspan><tspan x="1259.78">000</tspan></text></g>
<clipPath id="c_xt1200"><rect x="1623.80" y="994.90" width="11.00" height="49.00"/><rect x="1649.70" y="962.60" width="400.00" height="111.60"/></clipPath><g clip-path="url(#c_xt1200)"><text transform="translate(0 1043.22) scale(0.9700 0.9833)" font-size="72" stroke="#000" stroke-width="1.2" stroke-linejoin="miter"><tspan x="1657.99">1</tspan><tspan x="1703.00">200</tspan></text></g>
<clipPath id="c_xt1400"><rect x="2031.60" y="994.90" width="11.00" height="49.00"/><rect x="2055.00" y="962.60" width="400.00" height="111.60"/></clipPath><g clip-path="url(#c_xt1400)"><text transform="translate(0 1043.22) scale(0.9866 0.9838)" font-size="72" stroke="#000" stroke-width="1.2" stroke-linejoin="miter"><tspan x="2043.07">1</tspan><tspan x="2086.51">400</tspan></text></g>
<text transform="translate(0 1135.27) scale(1.0840 1.0152)" font-size="68" stroke="#000" stroke-width="2" stroke-linejoin="miter"><tspan x="814.64">Wavelength (nm)</tspan></text>
<text transform="translate(70.32 866.21) rotate(-90) scale(1.0725 0.9788)" font-size="68" stroke="#000" stroke-width="2" stroke-linejoin="miter">Normalized Intensity</text>
<text transform="translate(0 104.13) scale(1.0746 0.9637)" font-size="44" stroke="#000" stroke-width="3.5" stroke-linejoin="round"><tspan x="1705.19">:</tspan></text>
<clipPath id="c_ld0"><rect x="1867.00" y="67.60" width="10.00" height="38.20"/></clipPath><g clip-path="url(#c_ld0)"><text transform="translate(0 107.13) scale(1.1604 1.0271)" font-size="52" stroke="#000" stroke-width="2" stroke-linejoin="miter"><tspan x="1597.53">1</tspan></text></g>
<text transform="translate(0 86.91) scale(0.9120 0.7288)" font-size="40"><tspan x="2069.32">•</tspan></text>
<text transform="translate(0 88.43) scale(0.8738 0.8778)" font-size="40"><tspan x="2174.44">+</tspan></text>
<text transform="translate(0 190.63) scale(1.0746 0.9637)" font-size="44" stroke="#000" stroke-width="3.5" stroke-linejoin="round"><tspan x="1705.19">:</tspan></text>
<text transform="translate(0 192.53) scale(1.0058 1.0628)" font-size="52" stroke="#000" stroke-width="0.3" stroke-linejoin="miter"><tspan x="1847.72">2</tspan></text>
<text transform="translate(0 173.41) scale(0.9120 0.7288)" font-size="40"><tspan x="2069.32">•</tspan></text>
<text transform="translate(0 174.93) scale(0.8738 0.8778)" font-size="40"><tspan x="2174.44">+</tspan></text>
<text transform="translate(0 276.23) scale(1.0746 0.9637)" font-size="44" stroke="#000" stroke-width="3.5" stroke-linejoin="round"><tspan x="1705.19">:</tspan></text>
<text transform="translate(0 277.64) scale(0.9823 1.0493)" font-size="52" stroke="#000" stroke-width="0.3" stroke-linejoin="miter"><tspan x="1892.43">3</tspan></text>
<text transform="translate(0 259.01) scale(0.9120 0.7288)" font-size="40"><tspan x="2069.32">•</tspan></text>
<text transform="translate(0 260.53) scale(0.8738 0.8778)" font-size="40"><tspan x="2174.44">+</tspan></text>
<text transform="translate(0 363.03) scale(1.0746 0.9637)" font-size="44" stroke="#000" stroke-width="3.5" stroke-linejoin="round"><tspan x="1705.19">:</tspan></text>
<text transform="translate(0 364.93) scale(0.9029 1.0767)" font-size="52" stroke="#000" stroke-width="0.3" stroke-linejoin="miter"><tspan x="2059.55">4</tspan></text>
<text transform="translate(0 345.81) scale(0.9120 0.7288)" font-size="40"><tspan x="2069.32">•</tspan></text>
<text transform="translate(0 347.33) scale(0.8738 0.8778)" font-size="40"><tspan x="2174.44">+</tspan></text>
<text transform="translate(0 449.13) scale(1.0746 0.9637)" font-size="44" stroke="#000" stroke-width="3.5" stroke-linejoin="round"><tspan x="1705.19">:</tspan></text>
<text transform="translate(0 450.51) scale(0.9766 1.0623)" font-size="52" stroke="#000" stroke-width="0.3" stroke-linejoin="miter"><tspan x="1902.97">5</tspan></text>
<text transform="translate(0 431.91) scale(0.9120 0.7288)" font-size="40"><tspan x="2069.32">•</tspan></text>
<text transform="translate(0 433.43) scale(0.8738 0.8778)" font-size="40"><tspan x="2174.44">+</tspan></text>
</svg></body></html>
